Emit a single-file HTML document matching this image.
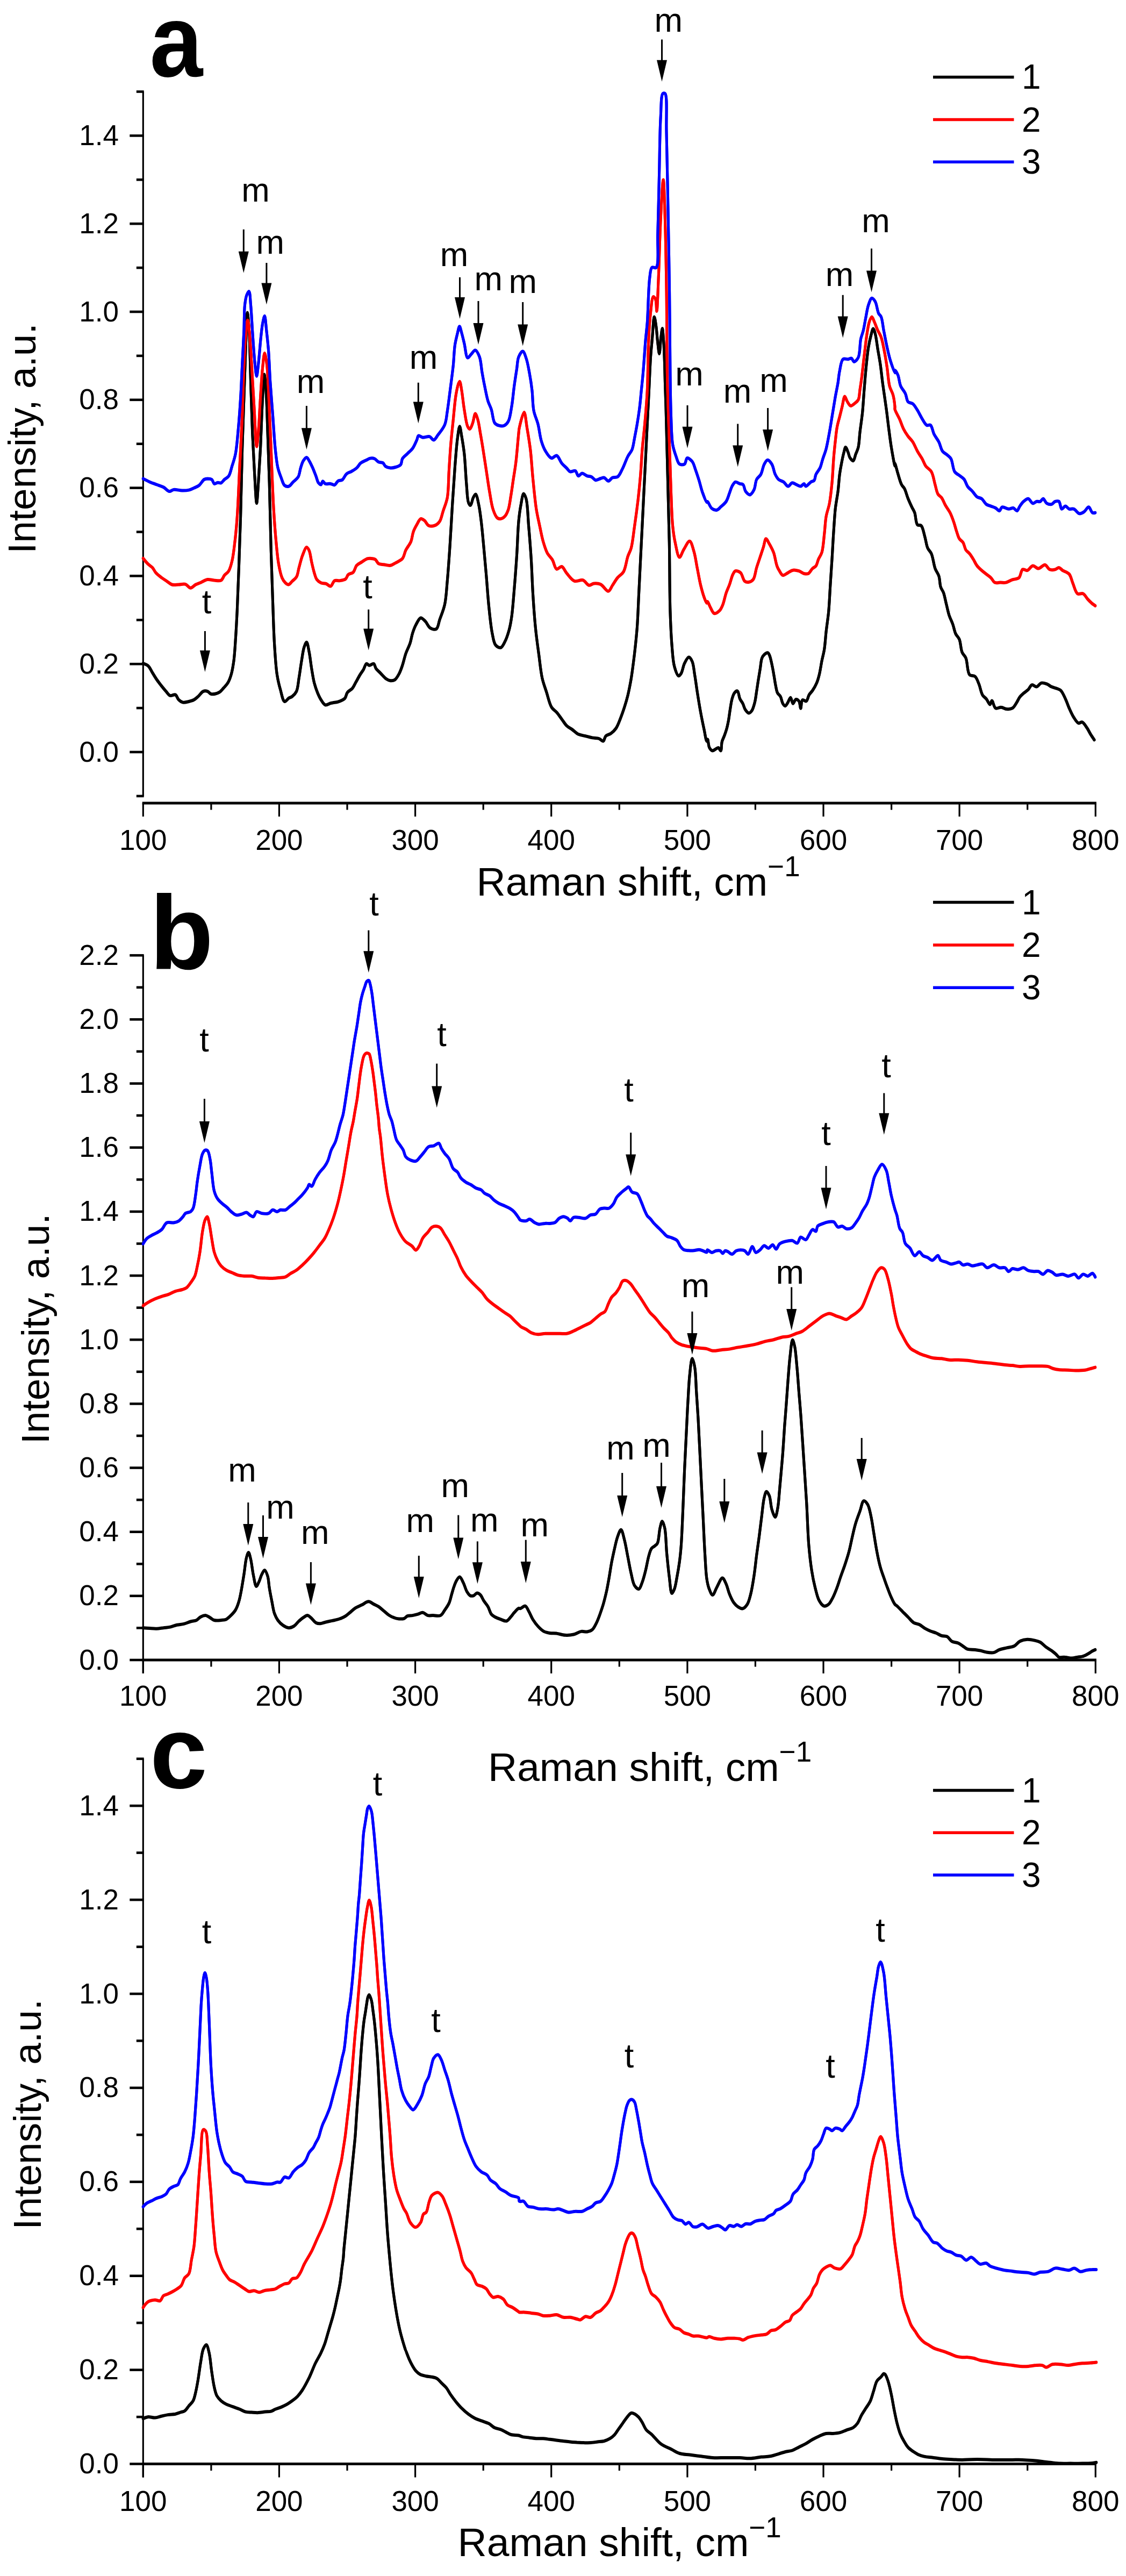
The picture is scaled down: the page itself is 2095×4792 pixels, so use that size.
<!DOCTYPE html>
<html><head><meta charset="utf-8"><title>Raman spectra</title>
<style>
html,body{margin:0;padding:0;background:#fff;}
body{width:2095px;height:4792px;overflow:hidden;}
svg{display:block;}
text{font-family:'Liberation Sans', Arial, Helvetica, sans-serif;fill:#000;}
</style></head>
<body>
<svg width="2095" height="4792" viewBox="0 0 2095 4792">
<rect width="2095" height="4792" fill="#fff"/>
<line x1="266.3" y1="170.5" x2="266.3" y2="1480.9" stroke="#000" stroke-width="3.2"/>
<line x1="253.8" y1="1480.9" x2="267.7" y2="1480.9" stroke="#000" stroke-width="4.6"/>
<line x1="241.3" y1="1399.0" x2="267.7" y2="1399.0" stroke="#000" stroke-width="4.6"/>
<line x1="253.8" y1="1317.1" x2="267.7" y2="1317.1" stroke="#000" stroke-width="4.6"/>
<line x1="241.3" y1="1235.2" x2="267.7" y2="1235.2" stroke="#000" stroke-width="4.6"/>
<line x1="253.8" y1="1153.3" x2="267.7" y2="1153.3" stroke="#000" stroke-width="4.6"/>
<line x1="241.3" y1="1071.4" x2="267.7" y2="1071.4" stroke="#000" stroke-width="4.6"/>
<line x1="253.8" y1="989.5" x2="267.7" y2="989.5" stroke="#000" stroke-width="4.6"/>
<line x1="241.3" y1="907.6" x2="267.7" y2="907.6" stroke="#000" stroke-width="4.6"/>
<line x1="253.8" y1="825.7" x2="267.7" y2="825.7" stroke="#000" stroke-width="4.6"/>
<line x1="241.3" y1="743.8" x2="267.7" y2="743.8" stroke="#000" stroke-width="4.6"/>
<line x1="253.8" y1="661.9" x2="267.7" y2="661.9" stroke="#000" stroke-width="4.6"/>
<line x1="241.3" y1="580.0" x2="267.7" y2="580.0" stroke="#000" stroke-width="4.6"/>
<line x1="253.8" y1="498.1" x2="267.7" y2="498.1" stroke="#000" stroke-width="4.6"/>
<line x1="241.3" y1="416.2" x2="267.7" y2="416.2" stroke="#000" stroke-width="4.6"/>
<line x1="253.8" y1="334.3" x2="267.7" y2="334.3" stroke="#000" stroke-width="4.6"/>
<line x1="241.3" y1="252.4" x2="267.7" y2="252.4" stroke="#000" stroke-width="4.6"/>
<line x1="253.8" y1="170.5" x2="267.7" y2="170.5" stroke="#000" stroke-width="4.6"/>
<text x="221.0" y="1416.5" font-size="53.0" text-anchor="end" font-weight="normal">0.0</text>
<text x="221.0" y="1252.7" font-size="53.0" text-anchor="end" font-weight="normal">0.2</text>
<text x="221.0" y="1088.9" font-size="53.0" text-anchor="end" font-weight="normal">0.4</text>
<text x="221.0" y="925.1" font-size="53.0" text-anchor="end" font-weight="normal">0.6</text>
<text x="221.0" y="761.3" font-size="53.0" text-anchor="end" font-weight="normal">0.8</text>
<text x="221.0" y="597.5" font-size="53.0" text-anchor="end" font-weight="normal">1.0</text>
<text x="221.0" y="433.7" font-size="53.0" text-anchor="end" font-weight="normal">1.2</text>
<text x="221.0" y="269.9" font-size="53.0" text-anchor="end" font-weight="normal">1.4</text>
<line x1="264.7" y1="1494.0" x2="2039.9" y2="1494.0" stroke="#000" stroke-width="5.0"/>
<line x1="266.3" y1="1494.0" x2="266.3" y2="1519.0" stroke="#000" stroke-width="3.2"/>
<line x1="392.9" y1="1494.0" x2="392.9" y2="1506.5" stroke="#000" stroke-width="3.2"/>
<line x1="519.4" y1="1494.0" x2="519.4" y2="1519.0" stroke="#000" stroke-width="3.2"/>
<line x1="646.0" y1="1494.0" x2="646.0" y2="1506.5" stroke="#000" stroke-width="3.2"/>
<line x1="772.6" y1="1494.0" x2="772.6" y2="1519.0" stroke="#000" stroke-width="3.2"/>
<line x1="899.2" y1="1494.0" x2="899.2" y2="1506.5" stroke="#000" stroke-width="3.2"/>
<line x1="1025.7" y1="1494.0" x2="1025.7" y2="1519.0" stroke="#000" stroke-width="3.2"/>
<line x1="1152.3" y1="1494.0" x2="1152.3" y2="1506.5" stroke="#000" stroke-width="3.2"/>
<line x1="1278.9" y1="1494.0" x2="1278.9" y2="1519.0" stroke="#000" stroke-width="3.2"/>
<line x1="1405.4" y1="1494.0" x2="1405.4" y2="1506.5" stroke="#000" stroke-width="3.2"/>
<line x1="1532.0" y1="1494.0" x2="1532.0" y2="1519.0" stroke="#000" stroke-width="3.2"/>
<line x1="1658.6" y1="1494.0" x2="1658.6" y2="1506.5" stroke="#000" stroke-width="3.2"/>
<line x1="1785.1" y1="1494.0" x2="1785.1" y2="1519.0" stroke="#000" stroke-width="3.2"/>
<line x1="1911.7" y1="1494.0" x2="1911.7" y2="1506.5" stroke="#000" stroke-width="3.2"/>
<line x1="2038.3" y1="1494.0" x2="2038.3" y2="1519.0" stroke="#000" stroke-width="3.2"/>
<text x="266.3" y="1580.6" font-size="53.0" text-anchor="middle" font-weight="normal">100</text>
<text x="519.4" y="1580.6" font-size="53.0" text-anchor="middle" font-weight="normal">200</text>
<text x="772.6" y="1580.6" font-size="53.0" text-anchor="middle" font-weight="normal">300</text>
<text x="1025.7" y="1580.6" font-size="53.0" text-anchor="middle" font-weight="normal">400</text>
<text x="1278.9" y="1580.6" font-size="53.0" text-anchor="middle" font-weight="normal">500</text>
<text x="1532.0" y="1580.6" font-size="53.0" text-anchor="middle" font-weight="normal">600</text>
<text x="1785.1" y="1580.6" font-size="53.0" text-anchor="middle" font-weight="normal">700</text>
<text x="2038.3" y="1580.6" font-size="53.0" text-anchor="middle" font-weight="normal">800</text>
<text x="886.5" y="1665.5" font-size="75">Raman shift, cm<tspan font-size="53" dy="-35.5">−1</tspan></text>
<text x="0" y="0" font-size="73" text-anchor="middle" transform="translate(66.4,815.7) rotate(-90)">Intensity, a.u.</text>
<line x1="1736.0" y1="143.4" x2="1886.5" y2="143.4" stroke="#000000" stroke-width="5.5"/>
<text x="1901.0" y="165.4" font-size="64.0" text-anchor="start" font-weight="normal">1</text>
<line x1="1736.0" y1="222.6" x2="1886.5" y2="222.6" stroke="#ff0000" stroke-width="5.5"/>
<text x="1901.0" y="244.6" font-size="64.0" text-anchor="start" font-weight="normal">2</text>
<line x1="1736.0" y1="301.2" x2="1886.5" y2="301.2" stroke="#0000ff" stroke-width="5.5"/>
<text x="1901.0" y="323.2" font-size="64.0" text-anchor="start" font-weight="normal">3</text>
<text x="0" y="0" font-size="192" font-weight="bold" transform="translate(278.4,142) scale(0.924,1)">a</text>
<path id="c1" d="M266.3,1234.1 C266.3,1234.1 273.0,1236.3 275.8,1238.8 C279.0,1241.7 281.0,1247.2 283.6,1251.4 C286.3,1255.6 288.7,1259.9 291.5,1264.0 C294.5,1268.3 297.9,1272.8 301.0,1276.6 C303.7,1280.0 306.2,1283.1 308.9,1286.1 C311.4,1288.9 313.7,1293.0 316.7,1294.0 C319.6,1294.9 323.6,1291.3 326.2,1292.4 C329.0,1293.6 330.0,1299.4 332.5,1301.8 C334.8,1304.0 337.4,1306.0 340.4,1306.6 C343.7,1307.2 347.9,1305.8 351.4,1305.0 C354.7,1304.2 358.0,1303.4 360.9,1301.8 C363.8,1300.3 366.1,1297.9 368.8,1295.5 C371.8,1292.8 374.9,1287.4 378.2,1286.1 C380.8,1285.0 383.7,1285.3 386.1,1286.1 C388.5,1286.9 390.0,1290.0 392.4,1290.8 C394.8,1291.6 397.7,1291.3 400.3,1290.8 C403.0,1290.3 405.7,1289.3 408.2,1287.7 C411.0,1285.8 413.5,1282.6 416.1,1279.8 C418.7,1276.8 421.7,1274.1 423.9,1270.3 C426.6,1265.9 428.5,1260.5 430.2,1254.6 C432.4,1247.2 433.7,1238.6 435.0,1229.3 C436.5,1218.0 437.2,1205.4 438.1,1191.5 C439.3,1174.5 440.3,1155.2 441.3,1134.8 C442.4,1110.6 443.4,1083.4 444.4,1055.9 C445.5,1025.9 446.6,995.2 447.6,961.4 C448.7,922.3 449.6,874.3 450.7,835.3 C451.7,801.5 452.8,771.7 453.9,740.7 C454.9,710.7 455.9,680.2 457.0,652.4 C458.0,627.5 458.8,581.5 460.2,581.5 C461.1,581.4 462.5,598.6 463.3,611.4 C464.9,634.6 465.4,676.8 466.5,709.2 C467.5,740.9 468.4,773.6 469.6,803.7 C470.8,831.2 472.3,858.8 473.7,882.5 C474.9,902.1 476.3,936.1 477.5,936.1 C478.6,936.1 479.7,912.5 480.7,898.3 C482.0,880.0 483.3,858.4 484.5,835.3 C485.9,806.9 487.1,766.3 488.6,740.7 C489.6,723.2 490.5,696.6 491.7,696.5 C492.7,696.5 494.0,713.1 494.9,724.9 C496.4,744.6 497.0,776.3 498.0,803.7 C499.1,833.8 500.2,864.5 501.2,898.3 C502.3,937.3 503.2,985.4 504.3,1024.4 C505.3,1058.2 506.4,1088.9 507.5,1119.0 C508.5,1146.5 509.1,1173.7 510.6,1197.8 C511.9,1218.3 513.0,1238.9 515.4,1254.6 C517.1,1265.7 519.1,1274.1 521.7,1282.9 C523.9,1290.8 526.1,1304.0 529.5,1305.0 C531.8,1305.6 534.9,1300.3 537.4,1298.7 C539.6,1297.3 541.7,1297.2 543.7,1295.5 C546.4,1293.4 549.6,1290.3 551.6,1286.1 C554.5,1279.9 554.8,1269.7 556.3,1260.9 C558.0,1250.9 559.4,1239.2 561.1,1229.3 C562.6,1220.4 563.7,1210.4 565.8,1204.1 C567.2,1200.1 569.1,1194.5 570.5,1194.7 C572.4,1194.9 573.8,1206.4 575.3,1213.6 C577.1,1222.7 578.3,1235.2 580.0,1245.1 C581.5,1254.0 582.7,1262.6 584.7,1270.3 C586.5,1277.1 588.7,1283.6 591.0,1289.2 C593.0,1293.9 594.9,1298.1 597.3,1301.8 C599.6,1305.4 602.1,1310.4 605.2,1311.3 C608.1,1312.1 612.3,1308.9 615.0,1308.1 C616.7,1307.7 617.7,1307.5 619.5,1307.2 C622.0,1306.7 625.6,1306.7 628.9,1305.6 C632.9,1304.3 638.6,1302.4 641.5,1299.3 C644.2,1296.4 643.9,1291.4 646.3,1288.2 C648.6,1285.1 653.1,1283.5 655.7,1280.4 C658.4,1277.2 659.8,1273.2 662.0,1269.3 C664.5,1264.9 667.3,1259.4 669.9,1255.1 C672.0,1251.6 674.2,1249.0 676.2,1245.7 C678.3,1242.2 679.6,1235.3 681.9,1234.7 C683.5,1234.2 685.2,1237.7 687.2,1237.8 C689.6,1238.0 693.1,1233.9 695.1,1234.7 C697.4,1235.5 697.8,1241.3 699.8,1244.1 C702.0,1247.0 704.9,1249.1 707.7,1252.0 C711.1,1255.4 715.2,1260.6 718.8,1263.0 C721.4,1264.8 724.0,1265.9 726.6,1266.2 C729.2,1266.4 732.2,1266.1 734.5,1264.6 C737.6,1262.6 740.1,1257.7 742.4,1253.6 C745.0,1248.9 746.7,1243.6 748.7,1237.8 C751.0,1231.1 752.6,1222.7 755.0,1215.7 C757.3,1209.1 760.8,1203.2 762.9,1196.8 C765.0,1190.6 765.7,1183.9 767.6,1177.9 C769.4,1172.3 771.3,1167.0 773.9,1162.1 C776.4,1157.6 779.6,1150.1 782.8,1149.5 C785.4,1149.1 788.6,1153.1 791.3,1155.8 C794.6,1159.1 796.9,1166.2 800.7,1168.4 C803.9,1170.3 809.0,1171.7 811.8,1170.0 C815.3,1167.9 815.8,1159.2 818.1,1152.7 C821.0,1144.4 825.2,1135.0 827.5,1124.3 C830.3,1111.4 830.8,1096.2 832.3,1080.2 C834.0,1061.0 835.5,1039.3 837.0,1017.1 C838.7,992.3 840.1,963.7 841.7,938.3 C843.2,914.4 844.8,890.6 846.4,869.0 C847.9,849.9 849.3,829.3 851.2,815.4 C852.4,806.4 853.9,793.3 855.3,793.3 C856.5,793.3 857.8,805.1 859.1,812.2 C860.7,821.4 862.4,831.7 863.8,843.7 C865.6,859.9 866.4,883.9 867.9,900.5 C869.1,913.5 869.2,929.1 871.7,935.2 C872.7,937.7 874.3,940.1 875.4,939.9 C877.3,939.6 878.6,929.4 880.5,925.7 C881.9,923.1 883.5,919.2 884.9,919.4 C887.1,919.7 889.0,931.1 890.6,938.3 C892.6,947.4 893.9,958.2 895.3,969.8 C897.1,984.0 898.5,1000.9 900.0,1017.1 C901.7,1034.4 903.2,1052.6 904.8,1070.7 C906.4,1089.4 907.6,1109.1 909.5,1127.5 C911.3,1144.8 913.1,1164.6 915.8,1177.9 C917.6,1186.8 918.5,1195.6 922.1,1200.0 C924.6,1202.9 928.8,1205.4 931.6,1204.7 C934.7,1203.9 937.1,1198.2 939.4,1193.7 C942.5,1187.7 945.2,1179.3 947.3,1171.6 C949.5,1163.6 950.7,1156.3 952.1,1146.4 C954.0,1132.5 955.3,1113.7 956.8,1095.9 C958.5,1076.1 960.1,1053.9 961.5,1032.9 C962.9,1011.9 963.3,987.4 965.0,969.8 C966.2,957.2 967.7,946.7 969.5,937.3 C970.8,930.1 972.3,918.6 974.2,918.4 C975.6,918.3 977.6,923.3 978.9,927.9 C981.8,937.9 982.1,960.6 983.6,978.3 C985.3,998.1 987.1,1020.3 988.4,1041.4 C989.7,1062.4 990.2,1083.4 991.5,1104.4 C992.8,1125.4 994.3,1147.6 996.3,1167.5 C998.0,1185.2 1000.4,1201.7 1002.6,1217.9 C1004.6,1233.1 1006.0,1249.5 1008.9,1262.0 C1011.1,1271.7 1014.0,1278.6 1016.7,1287.3 C1019.7,1296.5 1022.1,1309.0 1026.2,1315.6 C1028.9,1320.1 1032.6,1321.6 1035.7,1325.1 C1039.0,1328.9 1042.0,1333.5 1045.1,1337.7 C1048.3,1341.9 1051.1,1347.0 1054.6,1350.3 C1057.5,1353.1 1060.7,1354.3 1064.0,1356.6 C1068.0,1359.4 1072.2,1364.0 1076.6,1366.1 C1080.7,1368.0 1085.1,1368.2 1089.3,1369.2 C1093.5,1370.3 1097.6,1371.6 1101.9,1372.4 C1106.0,1373.2 1110.9,1372.7 1114.5,1374.0 C1117.5,1375.0 1120.3,1379.3 1122.4,1378.7 C1124.6,1378.0 1124.7,1371.6 1127.1,1369.2 C1129.5,1366.9 1133.6,1366.7 1136.5,1364.5 C1139.9,1362.1 1143.3,1359.0 1146.0,1355.0 C1149.2,1350.4 1151.4,1343.9 1153.9,1337.7 C1156.7,1330.8 1159.4,1323.0 1161.8,1315.6 C1164.1,1308.3 1166.1,1301.6 1168.1,1293.6 C1170.4,1284.0 1172.4,1273.6 1174.4,1262.0 C1176.7,1247.9 1178.8,1230.5 1180.7,1214.8 C1182.5,1199.0 1184.1,1184.4 1185.4,1167.5 C1186.9,1148.0 1187.5,1125.4 1188.6,1104.4 C1189.6,1083.4 1190.7,1062.4 1191.7,1041.4 C1192.8,1020.3 1193.8,999.3 1194.9,978.3 C1195.9,957.3 1197.0,936.3 1198.0,915.3 C1199.1,894.2 1200.1,873.2 1201.2,852.2 C1202.2,831.2 1203.3,810.2 1204.3,789.2 C1205.4,768.1 1206.4,747.1 1207.5,726.1 C1208.5,705.1 1209.4,680.7 1210.6,663.1 C1211.5,650.3 1212.5,641.6 1213.5,630.0 C1214.7,617.2 1215.8,589.6 1217.3,589.5 C1218.3,589.4 1219.6,599.0 1220.5,605.0 C1221.8,613.3 1222.4,625.7 1223.5,635.0 C1224.5,643.2 1225.7,658.0 1226.7,658.0 C1227.8,658.0 1228.5,638.4 1229.5,630.0 C1230.4,623.0 1231.5,611.0 1232.3,611.0 C1233.2,611.0 1233.9,623.7 1234.5,632.0 C1235.4,643.8 1236.0,661.4 1236.5,675.0 C1236.9,687.4 1237.1,697.7 1237.4,710.3 C1237.9,725.0 1238.4,738.1 1239.0,757.6 C1239.9,789.6 1241.1,841.7 1242.2,883.7 C1243.2,925.8 1244.5,967.8 1245.3,1009.8 C1246.1,1051.9 1245.8,1101.1 1246.9,1135.9 C1247.7,1160.6 1248.5,1180.3 1250.0,1199.0 C1251.3,1214.1 1251.8,1229.4 1254.8,1240.0 C1256.8,1247.2 1260.0,1256.8 1262.6,1257.3 C1264.2,1257.6 1265.9,1254.9 1267.4,1252.6 C1269.9,1248.5 1271.0,1239.0 1273.7,1233.7 C1275.9,1229.3 1279.0,1222.7 1281.6,1222.6 C1283.7,1222.6 1286.2,1226.9 1287.9,1230.5 C1290.5,1236.3 1291.1,1246.8 1292.6,1255.7 C1294.3,1265.6 1295.6,1276.3 1297.3,1287.3 C1299.2,1299.3 1301.4,1313.1 1303.6,1325.1 C1305.6,1336.1 1307.9,1347.1 1309.9,1356.6 C1311.7,1364.6 1313.5,1378.5 1315.0,1378.7 C1315.6,1378.8 1316.1,1375.3 1316.6,1375.4 C1317.7,1375.5 1317.9,1387.2 1319.9,1390.9 C1321.3,1393.5 1323.4,1396.1 1325.5,1396.5 C1327.5,1396.8 1330.2,1394.1 1332.1,1393.1 C1333.8,1392.3 1335.2,1390.6 1336.6,1390.9 C1338.2,1391.3 1339.9,1396.8 1341.0,1396.5 C1342.7,1396.0 1342.0,1384.7 1343.3,1379.8 C1344.3,1375.7 1346.3,1372.6 1347.7,1368.7 C1349.2,1364.5 1350.9,1360.0 1352.1,1355.4 C1353.5,1350.5 1354.4,1345.5 1355.5,1339.9 C1356.7,1333.1 1357.6,1324.6 1358.8,1317.7 C1359.8,1311.4 1360.6,1305.1 1362.1,1299.9 C1363.3,1295.7 1364.5,1291.2 1366.6,1288.8 C1368.1,1287.0 1370.6,1284.9 1372.1,1285.5 C1374.4,1286.3 1374.7,1295.8 1376.6,1299.9 C1378.1,1303.3 1380.5,1305.6 1382.1,1308.8 C1383.8,1312.2 1384.5,1316.8 1386.5,1319.9 C1388.3,1322.6 1391.0,1326.4 1393.2,1326.5 C1395.1,1326.6 1397.2,1324.3 1398.8,1322.1 C1401.2,1318.7 1402.9,1312.1 1404.3,1306.6 C1405.9,1300.4 1406.6,1293.4 1407.6,1286.6 C1408.8,1279.4 1409.8,1271.6 1411.0,1264.4 C1412.1,1257.5 1413.2,1251.0 1414.3,1244.4 C1415.4,1237.7 1415.8,1229.1 1417.6,1224.4 C1418.8,1221.4 1420.2,1219.4 1422.1,1217.7 C1423.9,1216.1 1427.0,1213.9 1428.7,1214.4 C1430.3,1214.9 1431.0,1217.5 1432.1,1220.0 C1433.8,1224.1 1435.2,1231.8 1436.5,1237.7 C1437.8,1243.6 1438.8,1249.4 1439.8,1255.5 C1441.0,1261.9 1441.9,1269.5 1443.2,1275.5 C1444.2,1280.4 1444.7,1285.3 1446.5,1288.8 C1447.9,1291.6 1450.5,1292.7 1452.0,1295.5 C1454.0,1299.0 1454.6,1305.7 1456.5,1308.8 C1457.8,1310.9 1459.5,1313.3 1460.9,1313.2 C1462.5,1313.1 1463.9,1309.9 1465.4,1307.7 C1467.2,1304.9 1469.3,1297.6 1470.9,1297.7 C1472.6,1297.8 1473.6,1308.6 1475.4,1308.8 C1477.0,1309.0 1478.8,1301.4 1480.9,1301.0 C1482.6,1300.6 1485.0,1302.4 1486.5,1304.3 C1488.5,1307.1 1488.7,1317.7 1489.8,1317.7 C1490.9,1317.6 1490.6,1303.5 1493.1,1302.1 C1494.8,1301.1 1498.1,1305.2 1500.0,1304.3 C1502.6,1303.2 1503.3,1295.8 1505.5,1292.4 C1507.3,1289.4 1509.7,1287.6 1511.8,1284.5 C1514.4,1280.6 1517.5,1275.3 1519.6,1270.3 C1521.8,1265.3 1522.9,1260.5 1524.4,1254.6 C1526.2,1247.2 1527.5,1237.4 1529.1,1229.3 C1530.6,1221.7 1532.6,1215.3 1533.8,1207.3 C1535.3,1197.7 1535.8,1186.7 1537.0,1175.7 C1538.3,1163.7 1540.4,1151.4 1541.7,1137.9 C1543.2,1122.3 1543.8,1104.0 1544.9,1087.5 C1545.9,1071.4 1547.0,1056.4 1548.0,1040.2 C1549.1,1022.9 1550.0,1003.2 1551.2,986.6 C1552.2,972.0 1552.9,958.3 1554.3,945.6 C1555.6,934.4 1557.7,924.6 1559.1,914.1 C1560.4,903.6 1561.0,891.7 1562.2,882.5 C1563.2,875.4 1564.1,870.2 1565.4,863.6 C1566.7,856.5 1568.5,847.4 1570.1,841.6 C1571.1,837.7 1572.0,832.2 1573.2,832.1 C1574.6,832.0 1576.6,838.4 1578.0,841.6 C1579.3,844.7 1579.5,848.3 1581.1,851.0 C1582.7,853.6 1585.7,857.7 1587.4,857.3 C1589.6,856.9 1590.6,848.9 1592.2,844.7 C1593.7,840.5 1595.7,837.2 1596.9,832.1 C1598.7,824.6 1598.8,813.9 1600.0,803.7 C1601.4,792.0 1603.5,778.8 1604.8,765.9 C1606.1,752.5 1606.8,738.3 1607.9,724.9 C1609.0,712.1 1609.8,699.9 1611.1,687.1 C1612.4,673.7 1613.9,657.6 1615.8,646.1 C1617.2,637.6 1618.8,630.3 1620.5,624.0 C1621.8,619.2 1623.2,611.5 1624.6,611.4 C1625.9,611.4 1627.3,616.8 1628.4,620.9 C1630.3,627.7 1631.6,639.8 1633.1,649.3 C1634.7,658.7 1636.4,667.5 1637.9,677.6 C1639.6,689.3 1640.8,702.4 1642.6,715.5 C1644.5,729.6 1647.0,745.4 1648.9,759.6 C1650.7,772.7 1652.0,785.1 1653.6,797.4 C1655.2,809.2 1656.5,820.6 1658.4,832.1 C1660.3,843.7 1664.3,866.8 1665.0,866.8 C1665.2,866.8 1664.7,862.0 1665.0,861.9 C1665.7,861.8 1668.6,874.5 1670.6,881.0 C1672.7,887.8 1674.9,896.8 1677.5,901.7 C1679.1,904.8 1681.1,905.6 1682.7,908.7 C1685.2,913.3 1687.2,921.7 1689.6,927.7 C1691.9,933.2 1694.4,938.7 1696.6,943.3 C1698.4,947.1 1700.2,949.5 1701.8,953.7 C1703.9,959.7 1703.7,972.9 1707.0,976.2 C1708.8,978.1 1711.9,976.1 1713.9,977.9 C1717.3,981.1 1718.8,991.8 1720.8,998.7 C1722.8,1005.6 1723.5,1013.9 1726.0,1019.5 C1727.9,1023.8 1730.9,1025.4 1732.9,1029.9 C1736.0,1036.7 1737.1,1050.1 1739.9,1057.6 C1741.9,1063.2 1745.1,1066.2 1746.8,1071.5 C1748.8,1077.6 1748.4,1086.6 1750.3,1092.3 C1751.6,1096.4 1753.9,1098.5 1755.5,1102.6 C1757.5,1108.3 1758.9,1116.5 1760.6,1123.4 C1762.4,1130.4 1763.7,1137.7 1765.8,1144.2 C1767.8,1150.3 1770.7,1155.7 1772.8,1161.5 C1774.8,1167.3 1775.7,1174.0 1778.0,1178.8 C1779.9,1182.9 1783.0,1184.8 1784.9,1189.2 C1787.5,1195.4 1787.5,1207.3 1790.1,1213.5 C1791.9,1217.9 1795.0,1219.2 1797.0,1223.9 C1800.2,1231.3 1799.4,1250.0 1803.9,1255.1 C1806.6,1258.0 1811.6,1256.1 1814.3,1258.5 C1817.6,1261.4 1819.1,1267.2 1821.3,1272.4 C1823.8,1278.5 1825.2,1288.3 1828.2,1293.2 C1830.2,1296.4 1832.9,1297.4 1835.1,1300.1 C1837.6,1303.1 1840.2,1310.6 1842.0,1310.5 C1843.5,1310.4 1844.2,1303.5 1845.5,1303.5 C1847.4,1303.5 1849.1,1315.7 1852.4,1317.4 C1855.2,1318.8 1859.4,1315.4 1862.8,1315.7 C1866.3,1315.9 1869.7,1318.9 1873.2,1319.1 C1876.7,1319.4 1880.7,1319.1 1883.6,1317.4 C1886.6,1315.7 1888.3,1312.0 1890.5,1308.7 C1893.0,1305.1 1894.9,1300.0 1897.5,1296.6 C1899.6,1293.8 1901.9,1291.9 1904.4,1289.7 C1907.1,1287.3 1910.5,1285.4 1913.1,1282.8 C1915.7,1280.2 1917.2,1274.8 1920.0,1274.1 C1922.5,1273.4 1925.9,1278.0 1928.6,1277.6 C1931.7,1277.1 1934.1,1271.5 1937.3,1270.6 C1940.4,1269.8 1944.5,1271.2 1947.7,1272.4 C1950.8,1273.5 1953.2,1276.1 1956.4,1277.6 C1959.6,1279.1 1963.7,1279.8 1966.7,1281.0 C1969.3,1282.1 1971.5,1282.4 1973.7,1284.5 C1976.9,1287.6 1979.8,1294.7 1982.3,1300.1 C1985.0,1305.6 1986.7,1311.7 1989.3,1317.4 C1991.9,1323.2 1994.7,1329.8 1997.9,1334.7 C2000.6,1338.8 2003.5,1344.1 2006.6,1345.1 C2008.8,1345.8 2011.3,1342.7 2013.5,1343.4 C2016.6,1344.4 2019.6,1350.1 2022.2,1353.8 C2024.8,1357.5 2026.7,1362.0 2029.1,1365.9 C2031.3,1369.5 2036.0,1376.3 2036.0,1376.3" fill="none" stroke="#000000" stroke-width="5.0" stroke-linejoin="round" stroke-linecap="round" transform="translate(0,-0.5)"/><use href="#c1" transform="translate(0,1)"/>
<path id="c2" d="M266.3,1038.6 C266.3,1038.6 272.6,1046.6 275.8,1049.6 C278.4,1052.2 281.3,1053.4 283.6,1055.9 C286.1,1058.6 287.3,1062.4 289.9,1065.4 C292.9,1068.8 297.4,1072.1 301.0,1074.9 C304.2,1077.3 307.3,1079.1 310.4,1081.2 C313.6,1083.3 316.3,1086.4 319.9,1087.5 C323.6,1088.6 328.3,1087.6 332.5,1087.5 C336.7,1087.4 341.4,1085.7 345.1,1086.8 C348.7,1087.9 351.4,1093.7 354.6,1093.8 C357.7,1093.8 360.8,1089.2 364.0,1087.5 C367.1,1085.8 370.1,1085.1 373.5,1083.7 C377.4,1082.0 381.8,1078.7 386.1,1078.0 C390.2,1077.4 394.5,1079.3 398.7,1079.6 C402.9,1079.8 408.1,1081.3 411.3,1079.6 C414.3,1078.0 415.3,1073.0 417.6,1070.1 C420.0,1067.3 423.3,1065.8 425.5,1062.2 C428.4,1057.5 430.1,1050.5 431.8,1043.3 C434.0,1034.2 435.1,1023.6 436.5,1011.8 C438.4,997.0 439.9,980.8 441.3,961.4 C443.2,934.8 444.4,898.3 446.0,866.8 C447.6,835.3 449.4,803.7 450.7,772.2 C452.0,740.7 452.6,704.7 453.9,677.6 C454.8,657.2 455.6,639.1 457.0,624.0 C458.1,613.1 459.6,595.7 460.8,595.7 C462.0,595.7 463.3,610.8 464.3,620.9 C465.8,636.0 466.8,657.2 468.1,677.6 C469.6,701.7 471.2,730.6 472.8,756.4 C474.4,781.5 475.8,830.5 477.5,830.5 C478.5,830.6 479.7,814.6 480.7,803.7 C482.2,787.2 483.1,761.1 484.5,740.7 C485.7,721.3 486.9,699.3 488.6,683.9 C489.7,673.3 490.9,657.2 492.3,657.1 C493.6,657.1 495.3,668.9 496.4,677.6 C498.4,692.8 499.0,717.5 500.2,740.7 C501.7,769.0 502.9,802.5 504.3,835.3 C505.8,870.6 507.2,913.9 509.1,945.6 C510.5,969.6 512.0,989.9 513.8,1008.7 C515.2,1023.8 516.3,1037.7 518.5,1049.6 C520.2,1059.1 522.1,1068.6 524.8,1074.9 C526.6,1079.0 528.8,1082.2 531.1,1084.3 C532.9,1085.9 534.9,1087.7 536.8,1087.5 C539.1,1087.2 541.4,1083.4 543.7,1081.2 C546.3,1078.7 549.6,1076.8 551.6,1073.3 C554.2,1068.9 554.6,1062.1 556.3,1055.9 C558.3,1049.0 560.1,1040.5 562.6,1033.9 C564.9,1028.1 568.1,1018.3 570.5,1018.1 C572.2,1018.0 573.9,1021.5 575.3,1024.4 C577.5,1029.4 578.3,1039.4 580.0,1046.5 C581.5,1053.0 583.0,1059.8 584.7,1065.4 C586.2,1070.1 587.1,1074.8 589.4,1078.0 C591.5,1080.8 594.4,1083.0 597.3,1084.3 C600.2,1085.6 603.8,1084.8 606.8,1085.9 C609.7,1086.9 612.5,1091.1 615.0,1090.6 C617.9,1090.0 619.5,1081.8 622.6,1080.2 C625.3,1078.8 628.8,1080.6 632.1,1080.2 C635.6,1079.7 640.4,1079.1 643.1,1077.0 C645.5,1075.2 645.6,1071.2 647.8,1069.1 C650.2,1066.9 654.8,1066.9 657.3,1064.4 C660.2,1061.5 660.7,1055.0 663.6,1051.8 C666.1,1048.9 669.7,1047.5 673.1,1045.5 C676.6,1043.3 680.4,1040.2 684.1,1039.2 C687.2,1038.4 691.0,1038.8 693.5,1039.2 C695.4,1039.5 696.7,1039.7 698.3,1040.8 C700.5,1042.3 701.9,1047.1 704.6,1048.7 C707.2,1050.2 710.7,1049.7 714.0,1050.2 C717.9,1050.8 722.8,1052.5 726.6,1051.8 C730.1,1051.2 732.8,1048.9 736.1,1047.1 C740.1,1044.9 745.6,1042.9 748.7,1039.2 C752.0,1035.2 752.5,1028.6 755.0,1023.4 C757.7,1018.1 762.1,1013.3 764.5,1007.7 C766.9,1001.8 767.1,994.3 769.2,988.8 C771.0,984.0 773.2,980.1 775.5,976.1 C777.7,972.3 780.0,965.9 782.8,965.1 C784.9,964.5 787.5,966.6 789.7,968.3 C792.5,970.4 794.3,976.2 797.6,977.7 C800.7,979.2 805.3,978.9 808.6,977.7 C812.1,976.4 815.6,973.5 818.1,969.8 C821.2,965.2 822.2,957.7 824.4,950.9 C826.9,943.1 830.4,935.7 832.3,925.7 C834.8,911.9 834.3,891.8 835.4,875.3 C836.4,859.2 837.3,843.7 838.6,828.0 C839.9,812.2 841.7,796.2 843.3,780.7 C844.8,765.7 846.1,748.7 848.0,736.5 C849.4,727.9 851.1,719.1 852.7,714.5 C853.6,712.2 854.5,709.6 855.3,709.7 C856.7,709.9 857.9,720.3 859.1,727.1 C860.7,736.6 861.9,750.5 863.8,761.8 C865.6,772.6 867.3,787.6 870.1,793.3 C871.3,795.8 872.9,798.2 874.2,798.0 C876.0,797.8 878.0,791.2 879.5,787.0 C881.4,781.9 882.5,769.8 884.3,769.6 C885.7,769.5 887.6,776.2 889.0,780.7 C891.0,787.3 892.2,797.2 893.7,805.9 C895.4,815.1 896.8,823.9 898.5,834.3 C900.4,846.7 902.7,861.6 904.8,875.3 C906.9,888.9 908.8,903.5 911.1,916.2 C913.1,927.5 914.4,939.2 917.4,947.8 C919.5,954.1 922.1,961.0 925.3,963.5 C927.2,965.1 929.4,965.4 931.6,965.1 C934.1,964.7 937.2,962.8 939.4,960.4 C942.2,957.4 944.0,952.8 945.8,947.8 C948.0,940.9 949.0,931.4 950.5,922.5 C952.2,912.6 953.6,901.5 955.2,891.0 C956.8,880.5 958.5,871.4 959.9,859.5 C961.8,844.0 963.8,816.8 965.0,805.9 C965.5,801.1 965.4,799.7 966.3,795.5 C967.9,788.3 972.8,767.0 975.1,767.1 C977.5,767.2 978.7,785.1 980.5,795.5 C982.6,807.9 985.0,821.8 986.8,836.4 C988.8,853.1 989.7,871.9 991.5,890.0 C993.4,908.7 995.3,930.7 997.8,946.8 C999.7,958.9 1002.0,968.1 1004.1,978.3 C1006.2,988.0 1007.9,997.9 1010.4,1006.7 C1012.7,1014.6 1015.0,1022.6 1018.3,1028.8 C1021.0,1033.8 1025.0,1036.7 1027.8,1041.4 C1030.8,1046.5 1032.1,1057.4 1035.7,1058.7 C1038.3,1059.6 1042.2,1053.3 1045.1,1054.0 C1048.7,1054.8 1050.9,1062.4 1054.6,1066.6 C1058.7,1071.3 1063.4,1078.9 1068.8,1080.8 C1073.5,1082.5 1080.0,1077.8 1084.5,1079.2 C1088.9,1080.6 1091.8,1087.9 1095.6,1088.7 C1098.7,1089.3 1101.6,1085.8 1105.0,1085.5 C1108.9,1085.1 1113.6,1085.2 1117.6,1087.1 C1122.6,1089.3 1128.0,1100.1 1131.8,1099.7 C1135.1,1099.3 1137.0,1092.6 1139.7,1088.7 C1142.7,1084.2 1145.6,1078.7 1149.2,1074.5 C1152.5,1070.4 1157.3,1068.5 1160.2,1063.4 C1164.2,1056.5 1165.4,1043.1 1168.1,1035.1 C1170.1,1029.0 1172.6,1025.9 1174.4,1019.3 C1177.2,1009.0 1178.6,992.5 1180.7,978.3 C1182.9,963.1 1185.1,946.8 1187.0,931.0 C1188.8,915.3 1190.4,899.5 1191.7,883.7 C1193.0,868.0 1193.6,852.2 1194.9,836.4 C1196.2,820.7 1198.1,806.1 1199.6,789.2 C1201.3,769.7 1203.2,748.8 1204.3,726.1 C1205.7,699.6 1205.3,665.6 1206.5,640.0 C1207.4,619.5 1208.3,600.5 1210.2,584.5 C1211.6,572.2 1212.9,552.7 1215.6,552.0 C1216.8,551.7 1218.7,554.5 1219.7,557.0 C1221.6,561.6 1221.2,579.0 1221.9,579.0 C1223.1,579.0 1224.1,540.3 1225.2,516.6 C1226.6,485.3 1227.5,440.5 1229.2,407.8 C1230.6,380.9 1232.7,334.4 1234.1,334.4 C1235.5,334.4 1236.5,379.6 1237.4,407.8 C1238.6,446.2 1239.4,496.9 1240.1,543.8 C1240.8,594.1 1240.5,651.3 1241.5,700.0 C1242.4,742.8 1244.1,782.9 1245.3,820.7 C1246.4,854.1 1247.3,886.9 1248.5,915.3 C1249.4,938.4 1249.9,960.9 1251.6,978.3 C1252.8,990.7 1254.1,999.8 1256.3,1009.8 C1258.4,1019.2 1261.1,1036.3 1264.2,1036.6 C1266.6,1036.9 1269.1,1027.2 1272.1,1022.4 C1275.4,1017.2 1280.0,1006.3 1283.1,1006.7 C1286.4,1007.0 1288.8,1018.4 1291.0,1025.6 C1293.8,1034.7 1295.2,1046.6 1297.3,1057.1 C1299.4,1067.6 1301.3,1079.1 1303.6,1088.7 C1305.6,1096.7 1307.7,1104.7 1309.9,1110.7 C1311.6,1115.1 1313.8,1121.7 1315.0,1121.8 C1315.6,1121.8 1315.7,1119.0 1316.3,1119.0 C1317.4,1119.0 1319.2,1125.1 1321.0,1128.4 C1323.3,1132.4 1325.7,1140.2 1328.9,1141.1 C1331.6,1141.8 1335.8,1138.8 1338.4,1136.3 C1341.2,1133.7 1342.8,1129.7 1344.7,1125.3 C1347.2,1119.3 1348.7,1109.9 1351.0,1103.2 C1352.9,1097.5 1355.3,1093.0 1357.3,1087.5 C1359.5,1081.5 1361.2,1073.0 1363.6,1068.5 C1365.1,1065.7 1366.2,1062.9 1368.3,1062.2 C1370.7,1061.5 1375.1,1063.1 1377.8,1065.4 C1381.3,1068.5 1382.3,1078.6 1385.7,1081.2 C1387.9,1082.9 1391.0,1083.2 1393.5,1082.7 C1396.3,1082.3 1399.3,1080.8 1401.4,1078.0 C1404.8,1073.6 1405.5,1063.0 1407.7,1055.9 C1409.8,1049.4 1411.9,1043.3 1414.0,1037.0 C1416.1,1030.7 1418.4,1024.1 1420.3,1018.1 C1422.1,1012.6 1423.0,1002.7 1425.1,1002.3 C1426.8,1002.1 1429.3,1008.2 1431.4,1011.8 C1434.0,1016.3 1437.0,1021.6 1439.3,1027.6 C1442.0,1034.9 1443.2,1046.5 1445.6,1052.8 C1447.0,1056.8 1448.4,1059.3 1450.3,1062.2 C1452.1,1065.1 1454.0,1069.6 1456.6,1070.1 C1459.2,1070.7 1462.9,1067.0 1466.1,1065.4 C1469.2,1063.8 1472.1,1061.2 1475.5,1060.7 C1479.0,1060.1 1483.1,1061.2 1486.5,1062.2 C1489.9,1063.3 1492.9,1066.2 1496.0,1067.0 C1498.7,1067.6 1501.5,1068.1 1503.9,1067.0 C1506.9,1065.6 1509.1,1060.0 1511.8,1057.5 C1513.9,1055.5 1516.4,1055.1 1518.1,1052.8 C1520.3,1049.8 1521.0,1044.3 1522.8,1040.2 C1524.7,1035.9 1527.4,1033.0 1529.1,1027.6 C1531.7,1019.0 1532.5,1004.2 1533.8,992.9 C1535.1,982.1 1535.3,971.2 1537.0,961.4 C1538.5,952.4 1541.6,945.5 1543.3,936.1 C1545.4,924.9 1546.7,911.6 1548.0,898.3 C1549.4,883.4 1550.0,865.2 1551.2,851.0 C1552.1,839.4 1553.2,829.4 1554.3,819.5 C1555.3,810.6 1556.0,802.0 1557.5,794.3 C1558.7,787.5 1560.6,781.7 1562.2,775.4 C1563.8,769.1 1565.4,762.7 1566.9,756.4 C1568.5,750.1 1569.8,737.7 1571.7,737.5 C1573.1,737.4 1574.5,744.1 1576.4,747.0 C1578.2,749.8 1580.3,754.4 1582.7,754.9 C1585.0,755.3 1588.2,752.0 1590.6,750.1 C1592.9,748.3 1595.3,746.8 1596.9,743.8 C1599.1,739.4 1599.0,731.5 1600.0,724.9 C1601.1,717.9 1602.1,711.3 1603.2,702.8 C1604.7,691.3 1606.3,675.3 1607.9,661.9 C1609.5,649.0 1610.9,635.3 1612.6,624.0 C1614.1,614.8 1615.3,605.1 1617.4,598.8 C1618.7,594.8 1620.5,589.4 1622.1,589.4 C1623.7,589.4 1625.2,595.2 1626.8,598.8 C1628.9,603.4 1630.9,609.7 1633.1,614.6 C1635.2,619.1 1637.6,622.0 1639.4,627.2 C1642.1,634.6 1643.9,646.1 1645.8,655.6 C1647.6,665.0 1649.0,674.0 1650.5,683.9 C1652.1,694.9 1652.8,709.4 1655.2,718.6 C1656.9,725.0 1659.9,728.6 1661.5,734.4 C1663.3,741.0 1664.6,751.7 1665.0,756.4 C1665.2,758.7 1664.6,759.3 1665.0,761.5 C1666.1,765.8 1671.3,774.3 1674.1,780.5 C1676.6,786.4 1678.3,792.5 1681.0,797.8 C1683.5,802.8 1686.6,807.5 1689.6,811.7 C1692.4,815.5 1695.6,818.0 1698.3,822.1 C1701.5,827.0 1703.9,834.0 1707.0,839.4 C1709.7,844.3 1713.0,848.6 1715.6,853.2 C1718.2,857.8 1719.6,863.0 1722.5,867.1 C1725.4,871.1 1730.2,872.9 1732.9,877.5 C1736.5,883.6 1737.7,894.3 1739.9,901.7 C1741.7,908.0 1742.5,914.8 1745.1,919.1 C1746.9,922.2 1749.9,923.1 1752.0,926.0 C1754.6,929.7 1756.4,935.3 1758.9,939.8 C1761.5,944.5 1765.0,948.7 1767.6,953.7 C1770.3,959.0 1772.5,965.2 1774.5,971.0 C1776.5,976.7 1777.9,982.9 1779.7,988.3 C1781.4,993.2 1782.6,998.6 1784.9,1002.2 C1786.8,1005.2 1789.9,1006.2 1791.8,1009.1 C1794.2,1012.8 1794.7,1019.3 1797.0,1023.0 C1798.9,1025.9 1801.8,1027.2 1803.9,1029.9 C1806.4,1032.9 1808.6,1036.7 1810.9,1040.3 C1813.2,1044.1 1815.1,1048.9 1817.8,1052.4 C1820.3,1055.7 1823.5,1058.4 1826.5,1061.1 C1829.3,1063.6 1832.2,1065.7 1835.1,1068.0 C1838.0,1070.3 1841.2,1072.3 1843.8,1074.9 C1846.4,1077.5 1847.8,1082.2 1850.7,1083.6 C1853.6,1085.0 1857.6,1083.6 1861.1,1083.6 C1864.6,1083.6 1868.0,1084.3 1871.5,1083.6 C1875.5,1082.8 1879.5,1079.8 1883.6,1078.4 C1887.6,1077.0 1892.6,1077.6 1895.7,1074.9 C1899.3,1071.8 1899.4,1061.1 1902.7,1059.3 C1905.0,1058.1 1908.5,1061.8 1911.3,1061.1 C1914.8,1060.2 1918.1,1052.8 1921.7,1052.4 C1925.1,1052.0 1928.5,1057.7 1932.1,1057.6 C1936.0,1057.5 1940.7,1050.2 1944.2,1050.7 C1947.5,1051.1 1949.5,1058.0 1952.9,1059.3 C1956.0,1060.6 1960.2,1060.1 1963.3,1059.3 C1965.9,1058.7 1968.0,1055.7 1970.2,1055.9 C1972.6,1056.1 1974.4,1059.3 1977.1,1061.1 C1980.6,1063.3 1986.2,1064.4 1989.3,1068.0 C1992.8,1072.1 1993.7,1079.4 1996.2,1085.3 C1998.8,1091.6 2000.8,1101.7 2004.8,1104.4 C2007.7,1106.2 2012.2,1103.0 2015.2,1104.4 C2018.7,1106.0 2021.1,1111.7 2023.9,1114.8 C2026.3,1117.4 2028.4,1119.6 2030.8,1121.7 C2033.1,1123.6 2037.8,1126.9 2037.8,1126.9" fill="none" stroke="#ff0000" stroke-width="5.0" stroke-linejoin="round" stroke-linecap="round" transform="translate(0,-0.5)"/><use href="#c2" transform="translate(0,1)"/>
<path id="c3" d="M266.3,890.4 C266.3,890.4 274.7,894.9 278.9,896.7 C283.1,898.5 287.3,899.9 291.5,901.5 C295.7,903.0 300.2,904.1 304.1,906.2 C308.1,908.3 311.7,913.7 315.2,914.1 C317.9,914.4 319.9,911.4 323.1,910.9 C327.3,910.3 333.9,912.4 338.8,912.5 C343.2,912.6 347.6,912.4 351.4,911.6 C354.9,910.8 357.8,909.2 360.9,907.8 C364.1,906.3 367.4,905.3 370.3,903.0 C373.8,900.3 376.7,893.9 379.8,892.0 C381.9,890.7 383.9,890.5 386.1,890.4 C388.6,890.4 391.9,890.5 394.0,892.0 C396.2,893.6 396.7,899.1 398.7,899.9 C400.5,900.5 402.9,897.9 405.0,897.7 C407.1,897.4 409.4,899.0 411.3,898.3 C413.6,897.5 415.3,894.0 417.6,892.0 C420.1,889.8 423.4,888.8 425.5,885.7 C428.5,881.4 429.8,873.4 431.8,866.8 C434.0,859.7 436.4,853.3 438.1,844.7 C440.4,833.2 441.4,818.9 442.8,803.7 C444.6,785.0 446.3,761.7 447.6,740.7 C448.9,719.7 449.7,698.6 450.7,677.6 C451.8,656.6 453.1,634.1 453.9,614.6 C454.6,597.7 454.1,579.5 455.5,567.3 C456.4,559.5 457.4,552.9 459.2,548.4 C460.4,545.6 462.3,541.8 463.3,542.1 C465.3,542.5 465.6,557.6 466.5,567.3 C467.8,580.6 468.5,597.7 469.6,614.6 C471.0,634.1 472.7,662.0 474.4,677.6 C475.4,686.9 476.5,699.7 477.5,699.7 C478.6,699.7 479.6,686.5 480.7,677.6 C482.3,664.3 483.9,641.1 485.4,627.2 C486.5,617.3 487.2,609.1 488.6,602.0 C489.6,596.5 491.3,587.7 492.3,587.8 C493.8,587.9 494.7,604.9 495.8,614.6 C497.1,626.1 498.5,638.5 499.6,652.4 C500.9,669.4 501.5,689.7 502.7,709.2 C504.1,729.6 505.9,751.2 507.5,772.2 C509.1,793.2 510.3,817.4 512.2,835.3 C513.6,848.6 514.7,860.2 516.9,869.9 C518.6,877.3 521.0,883.0 523.2,888.9 C525.2,894.0 526.5,900.6 529.5,903.0 C531.7,904.8 535.0,905.4 537.4,904.6 C540.3,903.7 542.6,899.5 545.3,896.7 C548.3,893.7 552.4,891.3 554.8,887.3 C557.5,882.6 557.8,875.2 559.5,869.9 C561.0,865.4 562.1,860.6 564.2,857.3 C566.0,854.6 568.6,850.9 570.5,851.0 C572.3,851.1 573.7,854.8 575.3,857.3 C577.4,860.7 579.6,865.5 581.6,869.9 C583.8,874.9 585.9,880.7 587.9,885.7 C589.6,890.1 590.5,895.7 592.6,898.3 C594.0,900.0 596.0,901.8 597.3,901.5 C598.7,901.1 599.1,895.4 600.5,895.2 C601.8,894.9 603.1,899.0 605.2,899.9 C607.7,900.9 612.0,899.5 615.0,899.9 C617.7,900.3 620.4,902.7 622.6,902.1 C625.1,901.3 626.4,896.4 628.9,894.8 C631.2,893.4 634.4,894.3 636.8,892.6 C639.8,890.5 641.6,884.2 644.7,881.6 C647.4,879.2 651.0,878.6 654.1,876.8 C657.3,875.0 660.7,873.1 663.6,870.5 C666.6,867.9 668.4,863.5 671.5,861.1 C674.3,858.8 677.9,857.8 680.9,856.3 C683.7,855.0 686.1,853.1 688.8,852.6 C691.4,852.1 694.2,852.2 696.7,853.2 C699.5,854.3 701.8,858.2 704.6,859.5 C707.1,860.7 710.4,859.7 712.5,861.1 C714.5,862.4 715.0,865.8 717.2,867.4 C719.6,869.1 723.5,870.3 726.6,870.5 C729.8,870.8 733.0,870.0 736.1,869.0 C739.3,867.9 743.5,866.8 745.6,864.2 C747.8,861.6 746.8,856.5 748.7,853.2 C750.8,849.6 755.0,846.9 758.2,843.7 C761.3,840.6 764.9,838.1 767.6,834.3 C770.8,829.9 773.5,822.9 775.5,818.5 C776.9,815.5 776.8,811.4 778.7,810.6 C780.5,809.8 783.6,813.4 786.5,813.8 C790.2,814.3 795.6,811.2 799.2,812.2 C802.3,813.1 804.5,818.8 807.0,818.5 C809.8,818.2 812.1,812.8 814.9,809.1 C818.8,803.9 824.6,797.2 827.5,790.1 C830.6,782.6 830.7,774.7 832.3,764.9 C834.4,751.6 836.6,732.5 838.6,717.6 C840.3,704.3 842.0,692.4 843.3,679.8 C844.6,667.2 844.8,652.8 846.4,642.0 C847.7,633.6 849.6,626.2 851.2,619.9 C852.4,615.1 853.6,607.3 855.0,607.3 C856.3,607.3 857.7,615.2 859.1,619.9 C860.7,625.5 862.1,632.0 863.8,638.8 C865.8,647.0 867.0,664.7 870.1,665.6 C871.9,666.1 874.2,661.5 876.4,659.3 C878.9,656.8 881.8,651.1 884.3,651.4 C887.1,651.7 890.2,658.7 892.2,664.0 C894.9,671.4 895.3,683.2 896.9,692.4 C898.4,701.1 899.8,709.0 901.6,717.6 C903.5,726.8 905.5,738.0 907.9,746.0 C909.8,752.1 912.3,755.8 914.2,761.8 C916.6,769.1 917.0,782.2 920.5,787.0 C922.6,789.8 925.5,790.9 928.4,791.7 C931.3,792.5 935.1,792.9 937.9,791.7 C940.9,790.5 943.6,787.7 945.8,783.8 C949.2,777.6 950.3,765.6 952.1,755.5 C954.1,743.8 955.1,729.7 956.8,717.6 C958.3,706.6 960.0,695.7 961.5,686.1 C962.7,678.1 962.6,669.8 965.0,664.0 C966.8,659.6 970.3,653.4 972.6,653.6 C975.0,653.8 977.1,661.0 978.9,666.2 C981.6,673.6 983.4,684.8 985.2,694.6 C987.1,704.8 988.7,715.1 989.9,726.1 C991.3,738.1 990.9,752.7 993.1,763.9 C994.9,773.3 998.7,780.2 1001.0,789.2 C1003.5,799.0 1004.5,811.6 1007.3,820.7 C1009.5,827.9 1011.8,834.2 1015.2,839.6 C1018.2,844.5 1022.4,851.5 1026.2,852.2 C1029.3,852.8 1032.8,846.7 1035.7,847.5 C1039.3,848.4 1041.8,857.6 1045.1,861.7 C1048.1,865.3 1051.7,868.3 1054.6,871.1 C1056.9,873.4 1058.3,876.6 1060.9,877.4 C1063.5,878.3 1067.9,874.7 1070.3,875.9 C1073.0,877.1 1073.7,884.8 1076.0,885.3 C1078.0,885.7 1080.4,880.8 1083.0,880.6 C1085.8,880.4 1089.3,884.3 1092.4,885.3 C1095.1,886.2 1097.8,885.7 1100.3,886.9 C1103.1,888.2 1105.3,892.7 1108.2,893.2 C1111.1,893.7 1114.8,890.9 1117.6,890.0 C1119.9,889.4 1121.8,888.0 1123.9,888.5 C1126.6,889.0 1129.2,894.8 1131.8,894.8 C1134.4,894.8 1136.8,889.8 1139.7,888.5 C1142.6,887.2 1146.4,888.8 1149.2,886.9 C1153.0,884.3 1155.6,876.9 1158.6,871.1 C1162.0,864.5 1164.8,855.3 1168.1,849.1 C1170.6,844.2 1173.9,841.4 1176.0,836.4 C1178.4,830.3 1179.2,822.0 1180.7,814.4 C1182.3,806.3 1183.9,798.0 1185.4,789.2 C1187.1,779.2 1188.8,768.2 1190.1,757.6 C1191.4,747.1 1192.2,736.6 1193.3,726.1 C1194.3,715.6 1195.4,706.9 1196.4,694.6 C1198.0,677.2 1199.7,648.9 1201.2,631.5 C1202.3,619.2 1203.3,613.0 1204.3,600.0 C1205.9,578.8 1206.4,534.5 1208.8,516.6 C1210.0,508.0 1209.9,500.1 1213.0,497.6 C1215.0,496.0 1218.9,499.6 1221.0,497.6 C1226.7,492.1 1223.0,458.7 1223.8,435.0 C1224.9,403.7 1225.6,362.3 1226.5,326.0 C1227.4,289.8 1227.5,245.5 1229.2,217.5 C1230.3,199.7 1229.6,177.4 1233.3,174.0 C1234.4,173.0 1236.3,172.9 1237.4,174.0 C1242.1,178.6 1239.2,217.3 1240.0,244.7 C1241.1,282.7 1241.9,333.2 1242.8,380.6 C1243.8,432.5 1244.9,490.0 1245.6,543.8 C1246.3,596.4 1246.4,657.7 1247.0,700.0 C1247.4,729.0 1247.6,750.9 1248.5,773.4 C1249.2,792.7 1249.3,813.1 1251.6,827.0 C1253.2,836.1 1255.6,842.6 1257.9,849.1 C1259.9,854.4 1261.0,861.2 1264.2,863.2 C1266.7,864.9 1271.4,864.8 1273.7,863.2 C1276.3,861.5 1276.0,852.9 1278.4,852.2 C1280.8,851.5 1285.4,855.4 1287.9,858.5 C1290.9,862.3 1292.2,868.8 1294.2,874.3 C1296.4,880.3 1298.4,886.6 1300.5,893.2 C1302.7,900.2 1304.3,908.3 1306.8,915.3 C1309.2,921.9 1313.2,933.8 1315.0,934.2 C1315.5,934.3 1315.7,932.9 1316.3,933.0 C1317.9,933.2 1320.9,943.0 1324.2,945.6 C1326.9,947.7 1330.8,949.3 1333.6,948.8 C1336.5,948.2 1338.8,944.8 1341.5,942.4 C1344.6,939.7 1348.4,936.9 1351.0,933.0 C1353.9,928.6 1355.4,922.2 1357.3,917.2 C1359.0,912.8 1360.0,908.2 1362.0,904.6 C1363.8,901.5 1365.8,897.4 1368.3,896.7 C1370.6,896.1 1373.7,899.1 1376.2,899.9 C1378.4,900.6 1380.8,900.0 1382.5,901.5 C1384.9,903.6 1384.9,910.8 1387.2,914.1 C1389.3,916.9 1392.6,920.6 1395.1,920.4 C1397.9,920.1 1401.0,914.9 1403.0,910.9 C1405.5,905.9 1405.2,897.0 1407.7,892.0 C1409.7,888.0 1413.4,886.5 1415.6,882.5 C1418.4,877.5 1419.3,868.4 1421.9,863.6 C1423.8,860.2 1425.9,855.9 1428.2,855.8 C1430.6,855.6 1433.9,860.1 1436.1,863.6 C1439.0,868.3 1439.9,877.5 1442.4,882.5 C1444.3,886.4 1446.0,889.6 1448.7,892.0 C1451.3,894.3 1455.3,894.7 1458.2,896.7 C1461.1,898.9 1463.4,904.5 1466.1,904.6 C1468.6,904.8 1471.2,898.7 1473.9,898.3 C1476.5,897.9 1479.2,900.4 1481.8,901.5 C1484.4,902.5 1487.3,904.9 1489.7,904.6 C1492.0,904.3 1494.4,899.6 1496.0,899.9 C1497.4,900.1 1497.7,904.4 1499.2,904.6 C1501.4,904.9 1505.7,898.7 1508.6,896.7 C1510.8,895.3 1513.4,895.4 1514.9,893.6 C1516.9,891.2 1516.4,886.2 1518.1,882.5 C1519.9,878.4 1523.9,874.5 1526.0,869.9 C1528.1,865.1 1528.9,859.7 1530.7,854.2 C1532.6,848.1 1535.1,842.4 1537.0,835.3 C1539.4,826.1 1541.3,814.7 1543.3,803.7 C1545.5,791.7 1547.6,777.6 1549.6,765.9 C1551.3,755.8 1552.7,746.7 1554.3,737.5 C1555.9,728.9 1557.7,720.4 1559.1,712.3 C1560.3,704.7 1560.6,697.5 1562.2,690.2 C1563.8,682.8 1564.7,671.0 1568.5,668.2 C1571.0,666.3 1575.2,668.5 1578.0,668.2 C1580.3,667.9 1582.5,666.0 1584.3,666.6 C1586.2,667.3 1587.1,672.8 1589.0,672.9 C1591.2,673.1 1594.9,669.1 1596.9,665.0 C1600.4,657.9 1599.6,639.6 1601.6,630.3 C1603.0,624.0 1604.9,620.5 1606.3,614.6 C1608.1,607.2 1609.4,597.5 1611.1,589.4 C1612.6,581.7 1613.6,573.5 1615.8,567.3 C1617.5,562.4 1619.7,555.1 1622.1,554.7 C1624.0,554.4 1626.6,557.9 1628.4,561.0 C1631.3,565.9 1632.2,578.1 1634.7,583.1 C1636.2,586.0 1638.1,586.3 1639.4,589.4 C1641.8,594.8 1642.5,605.7 1644.2,614.6 C1646.1,624.5 1648.3,636.2 1650.5,646.1 C1652.5,655.0 1654.3,663.3 1656.8,671.3 C1659.2,679.0 1664.1,693.5 1665.0,693.4 C1665.4,693.3 1664.5,688.9 1665.0,688.7 C1665.8,688.5 1669.0,693.7 1670.6,697.4 C1672.9,702.7 1673.2,712.1 1675.8,718.2 C1678.0,723.4 1682.1,727.1 1684.4,732.0 C1686.8,736.9 1686.7,744.5 1689.6,747.6 C1691.8,749.9 1695.7,749.0 1698.3,751.1 C1701.6,753.7 1704.2,758.8 1707.0,763.2 C1710.0,768.0 1712.6,774.0 1715.6,778.8 C1718.4,783.2 1721.1,789.3 1724.3,790.9 C1726.4,792.0 1729.2,789.6 1731.2,790.9 C1734.4,793.1 1735.4,802.9 1738.1,808.2 C1740.7,813.2 1744.3,817.1 1746.8,822.1 C1749.5,827.4 1750.6,835.2 1753.7,839.4 C1756.1,842.6 1759.7,843.9 1762.4,846.3 C1764.9,848.6 1767.3,849.9 1769.3,853.2 C1772.5,858.6 1772.7,872.2 1776.2,877.5 C1778.6,881.0 1782.0,882.1 1784.9,884.4 C1787.8,886.7 1791.1,888.3 1793.6,891.4 C1796.5,894.9 1797.7,901.3 1800.5,905.2 C1803.0,908.7 1806.3,910.8 1809.1,913.9 C1812.1,917.1 1814.6,921.9 1817.8,924.3 C1820.5,926.2 1823.8,925.8 1826.5,927.7 C1829.7,930.1 1831.9,935.8 1835.1,938.1 C1837.8,940.0 1840.9,940.4 1843.8,941.6 C1846.7,942.7 1849.8,943.6 1852.4,945.0 C1855.0,946.5 1857.3,950.5 1859.4,950.2 C1861.4,949.9 1862.1,944.1 1864.6,943.3 C1867.5,942.3 1873.0,946.6 1876.7,946.8 C1879.8,946.9 1882.7,944.4 1885.3,945.0 C1887.9,945.6 1890.3,950.6 1892.3,950.2 C1894.4,949.8 1895.5,944.4 1897.5,941.6 C1899.5,938.6 1901.7,935.3 1904.4,932.9 C1906.9,930.7 1910.3,927.4 1913.1,927.7 C1916.1,928.1 1918.8,935.9 1921.7,936.4 C1924.0,936.8 1926.3,933.5 1928.6,932.9 C1930.9,932.4 1933.6,933.7 1935.6,932.9 C1937.6,932.1 1939.0,927.6 1940.8,927.7 C1943.0,927.8 1944.9,934.7 1947.7,936.4 C1950.2,937.9 1953.7,938.7 1956.4,938.1 C1958.9,937.5 1960.8,933.7 1963.3,932.9 C1965.5,932.2 1968.4,931.6 1970.2,932.9 C1972.9,934.8 1972.9,946.1 1975.4,946.8 C1977.3,947.3 1980.0,941.6 1982.3,941.6 C1984.6,941.6 1986.7,945.9 1989.3,946.8 C1991.9,947.6 1995.1,945.7 1997.9,946.8 C2001.5,948.1 2004.8,954.9 2008.3,955.4 C2011.2,955.9 2014.3,953.8 2017.0,952.0 C2020.1,949.9 2023.0,943.1 2025.6,943.3 C2028.2,943.6 2030.0,952.3 2032.6,953.7 C2034.2,954.6 2037.8,953.7 2037.8,953.7" fill="none" stroke="#0000ff" stroke-width="5.0" stroke-linejoin="round" stroke-linecap="round" transform="translate(0,-0.5)"/><use href="#c3" transform="translate(0,1)"/>
<text x="475.4" y="374.6" font-size="63.0" text-anchor="middle" font-weight="normal">m</text>
<text x="502.8" y="472.0" font-size="63.0" text-anchor="middle" font-weight="normal">m</text>
<text x="578.0" y="730.5" font-size="63.0" text-anchor="middle" font-weight="normal">m</text>
<text x="845.0" y="494.5" font-size="63.0" text-anchor="middle" font-weight="normal">m</text>
<text x="908.8" y="539.7" font-size="63.0" text-anchor="middle" font-weight="normal">m</text>
<text x="972.7" y="545.0" font-size="63.0" text-anchor="middle" font-weight="normal">m</text>
<text x="788.0" y="686.3" font-size="63.0" text-anchor="middle" font-weight="normal">m</text>
<text x="1243.8" y="58.6" font-size="63.0" text-anchor="middle" font-weight="normal">m</text>
<text x="1282.6" y="716.6" font-size="63.0" text-anchor="middle" font-weight="normal">m</text>
<text x="1372.0" y="748.5" font-size="63.0" text-anchor="middle" font-weight="normal">m</text>
<text x="1439.5" y="728.8" font-size="63.0" text-anchor="middle" font-weight="normal">m</text>
<text x="1562.0" y="531.7" font-size="63.0" text-anchor="middle" font-weight="normal">m</text>
<text x="1629.5" y="431.5" font-size="63.0" text-anchor="middle" font-weight="normal">m</text>
<text x="384.5" y="1141.0" font-size="63.0" text-anchor="middle" font-weight="normal">t</text>
<text x="684.0" y="1113.0" font-size="63.0" text-anchor="middle" font-weight="normal">t</text>
<line x1="453.3" y1="426.8" x2="453.3" y2="469.8" stroke="#000" stroke-width="3.0"/>
<polygon points="443.8,467.8 462.8,467.8 453.3,507.8" fill="#000"/>
<line x1="495.9" y1="489.0" x2="495.9" y2="528.4" stroke="#000" stroke-width="3.0"/>
<polygon points="486.4,526.4 505.4,526.4 495.9,566.4" fill="#000"/>
<line x1="570.4" y1="755.0" x2="570.4" y2="798.3" stroke="#000" stroke-width="3.0"/>
<polygon points="560.9,796.3 579.9,796.3 570.4,836.3" fill="#000"/>
<line x1="855.5" y1="515.8" x2="855.5" y2="555.0" stroke="#000" stroke-width="3.0"/>
<polygon points="846.0,553.0 865.0,553.0 855.5,593.0" fill="#000"/>
<line x1="890.0" y1="560.0" x2="890.0" y2="603.0" stroke="#000" stroke-width="3.0"/>
<polygon points="880.5,601.0 899.5,601.0 890.0,641.0" fill="#000"/>
<line x1="972.7" y1="562.0" x2="972.7" y2="605.6" stroke="#000" stroke-width="3.0"/>
<polygon points="963.2,603.6 982.2,603.6 972.7,643.6" fill="#000"/>
<line x1="778.3" y1="711.8" x2="778.3" y2="749.5" stroke="#000" stroke-width="3.0"/>
<polygon points="768.8,747.5 787.8,747.5 778.3,787.5" fill="#000"/>
<line x1="1231.5" y1="73.5" x2="1231.5" y2="113.8" stroke="#000" stroke-width="3.0"/>
<polygon points="1222.0,111.8 1241.0,111.8 1231.5,151.8" fill="#000"/>
<line x1="1279.0" y1="754.0" x2="1279.0" y2="795.8" stroke="#000" stroke-width="3.0"/>
<polygon points="1269.5,793.8 1288.5,793.8 1279.0,833.8" fill="#000"/>
<line x1="1372.7" y1="788.5" x2="1372.7" y2="830.4" stroke="#000" stroke-width="3.0"/>
<polygon points="1363.2,828.4 1382.2,828.4 1372.7,868.4" fill="#000"/>
<line x1="1428.6" y1="759.0" x2="1428.6" y2="801.0" stroke="#000" stroke-width="3.0"/>
<polygon points="1419.1,799.0 1438.1,799.0 1428.6,839.0" fill="#000"/>
<line x1="1568.2" y1="548.8" x2="1568.2" y2="590.6" stroke="#000" stroke-width="3.0"/>
<polygon points="1558.7,588.6 1577.7,588.6 1568.2,628.6" fill="#000"/>
<line x1="1621.5" y1="462.4" x2="1621.5" y2="505.4" stroke="#000" stroke-width="3.0"/>
<polygon points="1612.0,503.4 1631.0,503.4 1621.5,543.4" fill="#000"/>
<line x1="381.4" y1="1174.0" x2="381.4" y2="1212.0" stroke="#000" stroke-width="3.0"/>
<polygon points="371.9,1210.0 390.9,1210.0 381.4,1250.0" fill="#000"/>
<line x1="685.7" y1="1133.8" x2="685.7" y2="1171.4" stroke="#000" stroke-width="3.0"/>
<polygon points="676.2,1169.4 695.2,1169.4 685.7,1209.4" fill="#000"/>
<line x1="266.3" y1="1777.2" x2="266.3" y2="3113.0" stroke="#000" stroke-width="3.2"/>
<line x1="241.3" y1="3088.0" x2="267.7" y2="3088.0" stroke="#000" stroke-width="4.6"/>
<line x1="253.8" y1="3028.4" x2="267.7" y2="3028.4" stroke="#000" stroke-width="4.6"/>
<line x1="241.3" y1="2968.8" x2="267.7" y2="2968.8" stroke="#000" stroke-width="4.6"/>
<line x1="253.8" y1="2909.3" x2="267.7" y2="2909.3" stroke="#000" stroke-width="4.6"/>
<line x1="241.3" y1="2849.7" x2="267.7" y2="2849.7" stroke="#000" stroke-width="4.6"/>
<line x1="253.8" y1="2790.1" x2="267.7" y2="2790.1" stroke="#000" stroke-width="4.6"/>
<line x1="241.3" y1="2730.5" x2="267.7" y2="2730.5" stroke="#000" stroke-width="4.6"/>
<line x1="253.8" y1="2670.9" x2="267.7" y2="2670.9" stroke="#000" stroke-width="4.6"/>
<line x1="241.3" y1="2611.4" x2="267.7" y2="2611.4" stroke="#000" stroke-width="4.6"/>
<line x1="253.8" y1="2551.8" x2="267.7" y2="2551.8" stroke="#000" stroke-width="4.6"/>
<line x1="241.3" y1="2492.2" x2="267.7" y2="2492.2" stroke="#000" stroke-width="4.6"/>
<line x1="253.8" y1="2432.6" x2="267.7" y2="2432.6" stroke="#000" stroke-width="4.6"/>
<line x1="241.3" y1="2373.0" x2="267.7" y2="2373.0" stroke="#000" stroke-width="4.6"/>
<line x1="253.8" y1="2313.5" x2="267.7" y2="2313.5" stroke="#000" stroke-width="4.6"/>
<line x1="241.3" y1="2253.9" x2="267.7" y2="2253.9" stroke="#000" stroke-width="4.6"/>
<line x1="253.8" y1="2194.3" x2="267.7" y2="2194.3" stroke="#000" stroke-width="4.6"/>
<line x1="241.3" y1="2134.7" x2="267.7" y2="2134.7" stroke="#000" stroke-width="4.6"/>
<line x1="253.8" y1="2075.1" x2="267.7" y2="2075.1" stroke="#000" stroke-width="4.6"/>
<line x1="241.3" y1="2015.6" x2="267.7" y2="2015.6" stroke="#000" stroke-width="4.6"/>
<line x1="253.8" y1="1956.0" x2="267.7" y2="1956.0" stroke="#000" stroke-width="4.6"/>
<line x1="241.3" y1="1896.4" x2="267.7" y2="1896.4" stroke="#000" stroke-width="4.6"/>
<line x1="253.8" y1="1836.8" x2="267.7" y2="1836.8" stroke="#000" stroke-width="4.6"/>
<line x1="241.3" y1="1777.2" x2="267.7" y2="1777.2" stroke="#000" stroke-width="4.6"/>
<text x="221.0" y="3105.5" font-size="53.0" text-anchor="end" font-weight="normal">0.0</text>
<text x="221.0" y="2986.3" font-size="53.0" text-anchor="end" font-weight="normal">0.2</text>
<text x="221.0" y="2867.2" font-size="53.0" text-anchor="end" font-weight="normal">0.4</text>
<text x="221.0" y="2748.0" font-size="53.0" text-anchor="end" font-weight="normal">0.6</text>
<text x="221.0" y="2628.9" font-size="53.0" text-anchor="end" font-weight="normal">0.8</text>
<text x="221.0" y="2509.7" font-size="53.0" text-anchor="end" font-weight="normal">1.0</text>
<text x="221.0" y="2390.5" font-size="53.0" text-anchor="end" font-weight="normal">1.2</text>
<text x="221.0" y="2271.4" font-size="53.0" text-anchor="end" font-weight="normal">1.4</text>
<text x="221.0" y="2152.2" font-size="53.0" text-anchor="end" font-weight="normal">1.6</text>
<text x="221.0" y="2033.1" font-size="53.0" text-anchor="end" font-weight="normal">1.8</text>
<text x="221.0" y="1913.9" font-size="53.0" text-anchor="end" font-weight="normal">2.0</text>
<text x="221.0" y="1794.7" font-size="53.0" text-anchor="end" font-weight="normal">2.2</text>
<line x1="264.7" y1="3088.0" x2="2039.9" y2="3088.0" stroke="#000" stroke-width="5.0"/>
<line x1="266.3" y1="3088.0" x2="266.3" y2="3113.0" stroke="#000" stroke-width="3.2"/>
<line x1="392.9" y1="3088.0" x2="392.9" y2="3100.5" stroke="#000" stroke-width="3.2"/>
<line x1="519.4" y1="3088.0" x2="519.4" y2="3113.0" stroke="#000" stroke-width="3.2"/>
<line x1="646.0" y1="3088.0" x2="646.0" y2="3100.5" stroke="#000" stroke-width="3.2"/>
<line x1="772.6" y1="3088.0" x2="772.6" y2="3113.0" stroke="#000" stroke-width="3.2"/>
<line x1="899.2" y1="3088.0" x2="899.2" y2="3100.5" stroke="#000" stroke-width="3.2"/>
<line x1="1025.7" y1="3088.0" x2="1025.7" y2="3113.0" stroke="#000" stroke-width="3.2"/>
<line x1="1152.3" y1="3088.0" x2="1152.3" y2="3100.5" stroke="#000" stroke-width="3.2"/>
<line x1="1278.9" y1="3088.0" x2="1278.9" y2="3113.0" stroke="#000" stroke-width="3.2"/>
<line x1="1405.4" y1="3088.0" x2="1405.4" y2="3100.5" stroke="#000" stroke-width="3.2"/>
<line x1="1532.0" y1="3088.0" x2="1532.0" y2="3113.0" stroke="#000" stroke-width="3.2"/>
<line x1="1658.6" y1="3088.0" x2="1658.6" y2="3100.5" stroke="#000" stroke-width="3.2"/>
<line x1="1785.1" y1="3088.0" x2="1785.1" y2="3113.0" stroke="#000" stroke-width="3.2"/>
<line x1="1911.7" y1="3088.0" x2="1911.7" y2="3100.5" stroke="#000" stroke-width="3.2"/>
<line x1="2038.3" y1="3088.0" x2="2038.3" y2="3113.0" stroke="#000" stroke-width="3.2"/>
<text x="266.3" y="3173.2" font-size="53.0" text-anchor="middle" font-weight="normal">100</text>
<text x="519.4" y="3173.2" font-size="53.0" text-anchor="middle" font-weight="normal">200</text>
<text x="772.6" y="3173.2" font-size="53.0" text-anchor="middle" font-weight="normal">300</text>
<text x="1025.7" y="3173.2" font-size="53.0" text-anchor="middle" font-weight="normal">400</text>
<text x="1278.9" y="3173.2" font-size="53.0" text-anchor="middle" font-weight="normal">500</text>
<text x="1532.0" y="3173.2" font-size="53.0" text-anchor="middle" font-weight="normal">600</text>
<text x="1785.1" y="3173.2" font-size="53.0" text-anchor="middle" font-weight="normal">700</text>
<text x="2038.3" y="3173.2" font-size="53.0" text-anchor="middle" font-weight="normal">800</text>
<text x="908.0" y="3312.6" font-size="75">Raman shift, cm<tspan font-size="53" dy="-35.5">−1</tspan></text>
<text x="0" y="0" font-size="73" text-anchor="middle" transform="translate(90.8,2471.8) rotate(-90)">Intensity, a.u.</text>
<line x1="1736.0" y1="1678.6" x2="1886.5" y2="1678.6" stroke="#000000" stroke-width="5.5"/>
<text x="1901.0" y="1700.6" font-size="64.0" text-anchor="start" font-weight="normal">1</text>
<line x1="1736.0" y1="1758.0" x2="1886.5" y2="1758.0" stroke="#ff0000" stroke-width="5.5"/>
<text x="1901.0" y="1780.0" font-size="64.0" text-anchor="start" font-weight="normal">2</text>
<line x1="1736.0" y1="1837.2" x2="1886.5" y2="1837.2" stroke="#0000ff" stroke-width="5.5"/>
<text x="1901.0" y="1859.2" font-size="64.0" text-anchor="start" font-weight="normal">3</text>
<text x="278.5" y="1802.0" font-size="194.0" text-anchor="start" font-weight="bold">b</text>
<path id="c4" d="M266.3,3028.2 C266.3,3028.2 274.7,3028.8 278.9,3029.1 C283.1,3029.4 287.3,3029.9 291.5,3029.7 C295.7,3029.6 299.9,3028.7 304.1,3028.2 C308.3,3027.6 312.6,3027.5 316.7,3026.6 C321.0,3025.7 325.1,3023.7 329.4,3022.8 C333.5,3021.9 337.8,3021.9 342.0,3020.9 C346.2,3019.9 350.5,3017.7 354.6,3016.5 C358.3,3015.4 362.4,3015.5 365.6,3014.0 C368.6,3012.5 370.6,3009.1 373.5,3007.7 C376.4,3006.2 380.0,3004.8 383.0,3005.1 C385.8,3005.5 388.2,3007.8 390.8,3009.2 C393.5,3010.7 395.6,3013.1 398.7,3014.0 C402.3,3015.0 407.4,3014.3 411.3,3014.0 C414.7,3013.7 417.8,3013.8 420.8,3012.4 C424.2,3010.8 427.3,3007.4 430.2,3004.5 C433.1,3001.6 435.9,2998.8 438.1,2995.1 C440.8,2990.6 442.7,2985.1 444.4,2979.3 C446.5,2972.6 447.7,2965.1 449.2,2957.2 C450.8,2948.4 452.3,2938.6 453.9,2928.9 C455.5,2918.6 456.6,2904.7 458.6,2897.3 C459.7,2893.2 461.2,2887.8 462.4,2887.9 C463.8,2887.9 465.2,2895.4 466.5,2900.5 C468.3,2908.0 469.4,2920.0 471.2,2928.9 C472.9,2936.7 474.6,2950.6 476.9,2950.9 C478.5,2951.1 480.6,2944.9 482.3,2941.5 C484.1,2937.6 485.1,2932.5 487.0,2928.9 C488.6,2925.8 490.6,2920.9 492.3,2921.0 C494.3,2921.1 496.6,2927.6 498.0,2932.0 C499.9,2938.0 499.9,2946.5 501.2,2954.1 C502.5,2962.2 504.3,2971.2 505.9,2979.3 C507.4,2986.9 508.4,2995.1 510.6,3001.4 C512.4,3006.3 514.3,3010.3 516.9,3014.0 C519.5,3017.6 522.9,3021.0 526.4,3023.4 C529.7,3025.7 533.9,3028.0 537.4,3028.2 C540.7,3028.3 543.9,3026.8 546.9,3025.0 C550.3,3022.9 553.3,3018.3 556.3,3015.5 C559.0,3013.2 561.5,3011.0 564.2,3009.2 C566.8,3007.6 569.7,3005.0 572.1,3005.1 C574.4,3005.3 576.2,3007.4 578.4,3009.2 C581.4,3011.6 584.6,3016.9 587.9,3018.7 C590.4,3020.1 593.0,3020.4 595.8,3020.3 C598.8,3020.2 602.0,3018.5 605.2,3017.8 C608.4,3017.0 611.9,3016.2 615.0,3015.5 C617.7,3015.0 619.8,3014.7 622.6,3014.0 C626.0,3013.1 630.2,3012.2 633.6,3010.8 C637.0,3009.5 640.2,3008.0 643.1,3006.1 C646.0,3004.3 648.2,3002.0 651.0,2999.8 C654.0,2997.3 656.9,2994.2 660.4,2991.9 C664.2,2989.4 668.8,2987.7 673.1,2985.6 C677.3,2983.5 681.8,2979.3 685.7,2979.3 C689.0,2979.3 692.0,2982.4 695.1,2984.0 C698.3,2985.6 701.5,2986.8 704.6,2988.8 C707.9,2990.9 710.9,2994.0 714.0,2996.6 C717.2,2999.3 720.2,3002.4 723.5,3004.5 C726.5,3006.5 729.7,3008.1 733.0,3009.2 C736.0,3010.4 739.2,3011.2 742.4,3011.5 C745.5,3011.7 749.2,3011.8 751.9,3010.8 C754.3,3009.9 755.7,3007.1 758.2,3006.1 C760.9,3005.0 764.5,3005.7 767.6,3005.1 C770.8,3004.6 774.0,3003.8 777.1,3002.9 C780.3,3002.0 783.5,2999.5 786.5,2999.8 C789.8,3000.1 792.7,3004.3 796.0,3005.1 C799.1,3005.9 802.0,3005.1 805.5,3005.1 C809.7,3005.1 815.9,3007.0 819.6,3005.1 C823.2,3003.4 825.0,2998.7 827.5,2995.1 C830.3,2991.2 833.3,2987.0 835.4,2982.4 C837.6,2977.6 838.6,2971.9 840.1,2966.7 C841.7,2961.4 843.1,2955.7 844.9,2950.9 C846.3,2946.9 847.7,2942.9 849.6,2939.9 C851.2,2937.3 853.4,2933.4 855.3,2933.6 C857.6,2933.8 860.1,2940.5 862.2,2944.6 C864.6,2949.3 866.1,2956.2 868.5,2960.4 C870.4,2963.6 872.4,2967.1 874.8,2968.3 C876.7,2969.2 879.1,2968.9 881.1,2968.3 C883.4,2967.5 885.3,2963.7 887.4,2963.5 C889.5,2963.3 891.9,2964.9 893.7,2966.7 C896.2,2969.1 897.7,2974.1 900.0,2977.7 C902.4,2981.5 905.6,2984.7 907.9,2988.8 C910.4,2993.1 911.6,2999.7 914.2,3002.9 C916.1,3005.3 918.0,3006.2 920.5,3007.7 C923.6,3009.4 927.8,3011.1 931.6,3012.4 C935.2,3013.7 939.4,3016.4 942.6,3015.5 C945.7,3014.7 948.1,3010.4 950.5,3007.7 C952.8,3005.1 954.5,3002.3 956.8,2999.8 C959.3,2997.1 962.8,2992.6 965.0,2991.9 C966.1,2991.5 966.7,2992.5 967.9,2992.3 C970.2,2991.9 974.7,2986.9 977.3,2987.6 C980.0,2988.3 981.5,2993.4 983.6,2997.0 C986.3,3001.5 988.5,3007.9 991.5,3012.8 C994.4,3017.4 997.5,3021.7 1001.0,3025.4 C1004.3,3029.0 1008.1,3032.7 1012.0,3034.9 C1015.5,3036.7 1019.2,3037.4 1023.1,3038.0 C1027.1,3038.7 1031.2,3038.1 1035.7,3038.6 C1040.6,3039.3 1046.1,3041.5 1051.4,3041.8 C1056.7,3042.1 1062.2,3041.7 1067.2,3040.5 C1072.1,3039.4 1076.9,3035.6 1081.4,3034.9 C1085.2,3034.2 1088.9,3036.1 1092.4,3035.5 C1095.7,3034.9 1099.2,3034.0 1101.9,3031.7 C1105.1,3029.0 1107.4,3023.6 1109.7,3019.1 C1112.2,3014.2 1114.0,3008.9 1116.1,3003.3 C1118.2,2997.3 1120.4,2991.2 1122.4,2984.4 C1124.6,2976.7 1126.8,2967.6 1128.7,2959.2 C1130.5,2950.8 1131.9,2942.6 1133.4,2934.0 C1135.0,2924.8 1136.4,2914.4 1138.1,2905.6 C1139.6,2897.8 1141.1,2891.1 1142.8,2883.5 C1144.7,2875.4 1146.6,2865.2 1149.2,2858.3 C1151.0,2853.3 1153.5,2845.6 1155.5,2845.7 C1157.8,2845.9 1159.9,2857.4 1161.8,2864.6 C1164.2,2873.7 1166.0,2885.6 1168.1,2896.1 C1170.2,2906.6 1172.1,2918.1 1174.4,2927.7 C1176.3,2935.7 1177.5,2944.9 1180.7,2949.7 C1182.8,2952.9 1186.3,2956.5 1188.6,2956.0 C1191.2,2955.5 1193.0,2948.3 1194.9,2943.4 C1197.3,2937.2 1199.2,2929.2 1201.2,2921.4 C1203.4,2912.5 1205.2,2900.5 1207.5,2893.0 C1209.0,2887.9 1210.0,2883.4 1212.2,2880.4 C1213.9,2878.1 1216.6,2877.3 1218.5,2875.6 C1220.3,2874.1 1221.9,2873.5 1223.2,2870.9 C1226.0,2865.6 1226.1,2850.1 1228.0,2842.5 C1229.2,2837.4 1230.6,2830.0 1232.1,2829.9 C1233.5,2829.9 1235.5,2836.9 1236.8,2842.5 C1239.2,2853.2 1239.1,2874.4 1240.6,2889.8 C1242.0,2904.8 1243.6,2920.7 1245.3,2934.0 C1246.8,2944.9 1247.6,2963.5 1250.0,2963.9 C1251.4,2964.2 1253.4,2959.5 1254.8,2956.0 C1256.9,2950.7 1258.0,2941.8 1259.5,2934.0 C1261.2,2925.1 1262.9,2915.3 1264.2,2905.6 C1265.6,2895.4 1266.5,2886.4 1267.4,2874.1 C1268.7,2856.7 1269.5,2833.2 1270.5,2811.0 C1271.6,2786.2 1272.6,2757.0 1273.7,2732.2 C1274.7,2710.0 1275.8,2690.2 1276.8,2669.2 C1277.9,2648.1 1278.8,2625.6 1280.0,2606.1 C1281.0,2589.2 1281.6,2573.0 1283.1,2558.8 C1284.4,2547.2 1285.9,2527.4 1287.9,2527.3 C1289.3,2527.2 1291.4,2536.3 1292.6,2543.1 C1294.7,2554.5 1294.7,2574.6 1295.8,2590.3 C1296.8,2606.1 1297.9,2620.7 1298.9,2637.6 C1300.0,2657.1 1301.0,2679.7 1302.1,2700.7 C1303.1,2721.7 1304.2,2742.7 1305.2,2763.7 C1306.3,2784.7 1307.3,2805.8 1308.4,2826.8 C1309.4,2847.8 1310.3,2870.3 1311.5,2889.8 C1312.6,2906.7 1313.1,2925.0 1315.0,2937.1 C1316.2,2944.9 1317.4,2950.7 1319.5,2956.0 C1321.2,2960.4 1323.6,2967.1 1325.8,2967.1 C1328.3,2967.1 1330.8,2957.8 1333.6,2952.9 C1336.8,2947.4 1340.9,2935.6 1344.0,2935.5 C1346.6,2935.5 1348.9,2942.3 1351.0,2946.6 C1353.5,2951.9 1354.8,2959.6 1357.3,2965.5 C1359.6,2971.1 1362.2,2977.1 1365.2,2981.3 C1367.6,2984.6 1370.1,2987.3 1373.1,2989.1 C1375.7,2990.8 1379.1,2992.9 1381.9,2992.3 C1384.9,2991.7 1388.1,2988.0 1390.4,2984.4 C1393.4,2979.7 1394.8,2972.8 1396.7,2965.5 C1399.2,2955.8 1401.2,2942.7 1403.0,2930.8 C1404.9,2918.5 1406.1,2905.3 1407.7,2893.0 C1409.3,2881.2 1410.9,2870.1 1412.5,2858.3 C1414.1,2846.0 1415.6,2832.8 1417.2,2820.5 C1418.7,2808.7 1419.8,2794.1 1421.9,2785.8 C1423.1,2781.0 1424.3,2775.0 1426.0,2774.8 C1427.5,2774.6 1429.9,2779.1 1431.4,2782.6 C1433.8,2788.5 1433.9,2800.8 1436.1,2807.9 C1437.8,2813.4 1440.6,2822.2 1442.4,2822.1 C1444.3,2821.9 1445.9,2811.4 1447.1,2804.7 C1448.8,2795.8 1449.3,2784.0 1450.3,2773.2 C1451.4,2761.9 1452.4,2750.3 1453.4,2738.5 C1454.5,2726.2 1455.6,2714.0 1456.6,2700.7 C1457.7,2685.8 1458.7,2668.6 1459.7,2653.4 C1460.8,2639.2 1461.9,2626.3 1462.9,2612.4 C1464.0,2598.0 1464.9,2583.2 1466.1,2568.3 C1467.3,2552.8 1468.5,2534.7 1470.2,2521.0 C1471.4,2510.3 1472.8,2492.8 1474.6,2492.6 C1475.8,2492.5 1477.5,2499.8 1478.7,2505.2 C1480.6,2514.4 1481.5,2529.7 1482.8,2543.1 C1484.2,2557.9 1485.3,2574.6 1486.5,2590.3 C1487.8,2606.1 1489.2,2621.9 1490.3,2637.6 C1491.5,2653.4 1492.4,2669.2 1493.5,2684.9 C1494.5,2700.7 1495.5,2715.3 1496.6,2732.2 C1497.9,2751.7 1499.4,2773.1 1500.7,2795.3 C1502.2,2820.1 1502.9,2851.2 1504.8,2874.1 C1506.3,2891.9 1508.0,2907.2 1510.2,2921.4 C1512.0,2933.0 1514.0,2943.0 1516.5,2952.9 C1518.8,2961.8 1520.8,2972.0 1524.4,2978.1 C1526.9,2982.4 1530.0,2986.8 1533.2,2987.6 C1535.9,2988.2 1539.2,2986.4 1541.7,2984.4 C1544.9,2981.8 1547.1,2976.5 1549.6,2971.8 C1552.5,2966.2 1555.1,2959.2 1557.5,2952.9 C1559.8,2946.6 1561.5,2940.5 1563.8,2934.0 C1566.2,2926.9 1569.1,2919.5 1571.7,2911.9 C1574.4,2903.8 1577.2,2895.4 1579.5,2886.7 C1582.0,2877.6 1583.7,2867.5 1585.9,2858.3 C1587.9,2849.6 1589.7,2841.2 1592.2,2833.1 C1594.5,2825.4 1597.5,2818.1 1600.0,2811.0 C1602.4,2804.5 1604.0,2792.9 1607.0,2792.1 C1609.1,2791.6 1612.2,2795.3 1614.2,2798.4 C1617.3,2803.3 1618.8,2812.6 1620.5,2820.5 C1622.5,2829.3 1623.6,2838.7 1625.3,2848.9 C1627.2,2860.6 1629.3,2875.0 1631.6,2886.7 C1633.5,2896.8 1635.5,2906.6 1637.9,2915.1 C1639.8,2922.1 1641.9,2927.4 1644.2,2934.0 C1646.6,2941.1 1649.5,2949.3 1652.1,2956.0 C1654.2,2961.8 1656.1,2966.9 1658.4,2971.8 C1660.4,2976.3 1662.8,2981.8 1665.0,2984.4 C1666.3,2986.0 1667.3,2986.1 1668.9,2987.5 C1671.5,2989.9 1675.8,2994.4 1679.2,2997.9 C1682.7,3001.4 1686.2,3004.8 1689.6,3008.3 C1693.1,3011.7 1696.3,3016.3 1700.0,3018.7 C1703.3,3020.7 1707.1,3020.5 1710.4,3022.1 C1714.0,3023.9 1717.3,3027.0 1720.8,3029.1 C1724.2,3031.0 1727.7,3032.8 1731.2,3034.3 C1734.6,3035.7 1738.2,3036.3 1741.6,3037.7 C1745.1,3039.2 1748.4,3041.8 1752.0,3042.9 C1755.4,3044.0 1759.3,3043.1 1762.4,3044.6 C1765.7,3046.4 1767.6,3051.3 1771.0,3053.3 C1774.5,3055.4 1779.4,3055.0 1783.2,3056.8 C1786.9,3058.5 1790.4,3061.7 1793.6,3063.7 C1796.1,3065.3 1797.6,3067.0 1800.5,3067.9 C1804.2,3069.0 1810.1,3068.4 1814.3,3068.9 C1818.1,3069.3 1821.3,3069.9 1824.7,3070.6 C1828.2,3071.4 1831.4,3072.8 1835.1,3073.4 C1839.4,3074.1 1844.8,3075.0 1849.0,3074.1 C1852.8,3073.3 1855.6,3070.3 1859.4,3068.9 C1863.6,3067.3 1868.6,3066.6 1873.2,3065.4 C1877.8,3064.3 1883.0,3064.0 1887.1,3062.0 C1891.0,3060.0 1893.5,3055.3 1897.5,3053.3 C1901.5,3051.2 1906.7,3050.1 1911.3,3049.8 C1915.9,3049.6 1920.9,3050.6 1925.2,3051.6 C1928.9,3052.4 1932.3,3053.2 1935.6,3055.0 C1939.2,3057.1 1942.4,3061.1 1946.0,3063.7 C1949.4,3066.2 1953.1,3068.2 1956.4,3070.6 C1959.4,3072.9 1962.5,3075.3 1965.0,3077.6 C1967.0,3079.4 1967.9,3081.8 1970.2,3082.8 C1972.9,3083.9 1976.9,3082.5 1980.6,3082.8 C1984.9,3083.0 1990.2,3084.6 1994.5,3084.5 C1998.2,3084.4 2001.4,3083.3 2004.8,3082.8 C2008.3,3082.2 2011.9,3082.1 2015.2,3081.0 C2018.8,3079.9 2022.6,3077.6 2025.6,3075.8 C2028.2,3074.3 2030.4,3072.5 2032.6,3071.3 C2034.4,3070.3 2037.8,3068.9 2037.8,3068.9" fill="none" stroke="#000000" stroke-width="5.0" stroke-linejoin="round" stroke-linecap="round" transform="translate(0,-0.5)"/><use href="#c4" transform="translate(0,1)"/>
<path id="c5" d="M266.3,2428.9 C266.3,2428.9 272.3,2424.6 275.8,2422.6 C279.6,2420.4 284.1,2418.2 288.4,2416.3 C292.5,2414.5 296.8,2413.0 301.0,2411.6 C305.2,2410.2 309.4,2409.4 313.6,2407.8 C317.9,2406.2 321.9,2403.6 326.2,2402.1 C330.3,2400.7 335.1,2400.2 338.8,2399.0 C341.8,2398.0 344.3,2397.6 346.7,2395.8 C349.6,2393.7 352.1,2389.9 354.6,2386.4 C357.3,2382.6 360.4,2378.6 362.5,2373.8 C364.8,2368.3 365.7,2361.6 367.2,2354.9 C368.9,2347.1 370.5,2338.9 371.9,2329.6 C373.7,2318.3 374.8,2302.7 376.6,2291.8 C378.1,2283.4 379.3,2274.7 381.4,2269.7 C382.6,2266.8 384.3,2263.3 385.5,2263.4 C387.0,2263.7 388.1,2271.0 389.3,2276.0 C391.0,2283.6 392.4,2295.2 394.0,2304.4 C395.5,2313.1 396.6,2322.3 398.7,2329.6 C400.4,2335.6 402.7,2340.9 405.0,2345.4 C406.9,2349.1 408.8,2352.0 411.3,2354.9 C414.0,2357.8 417.3,2360.6 420.8,2362.7 C424.2,2364.8 428.1,2365.9 431.8,2367.5 C435.5,2369.0 439.0,2371.1 442.8,2372.2 C446.8,2373.3 451.2,2373.5 455.5,2373.8 C459.7,2374.0 463.9,2373.3 468.1,2373.8 C472.3,2374.3 476.4,2376.3 480.7,2376.9 C484.9,2377.5 489.1,2377.4 493.3,2377.6 C497.5,2377.7 501.7,2378.0 505.9,2377.9 C510.1,2377.8 514.3,2377.3 518.5,2376.9 C522.7,2376.5 527.4,2376.7 531.1,2375.3 C534.7,2374.0 537.3,2371.1 540.6,2369.0 C544.1,2366.9 548.1,2365.2 551.6,2362.7 C555.4,2360.1 559.0,2356.6 562.6,2353.3 C566.4,2349.8 570.1,2346.1 573.7,2342.2 C577.4,2338.2 581.3,2333.9 584.7,2329.6 C588.1,2325.5 591.0,2321.2 594.2,2317.0 C597.3,2312.8 601.0,2308.7 603.6,2304.4 C606.2,2300.3 607.7,2296.8 609.9,2291.8 C613.0,2284.9 617.0,2275.1 620.0,2266.5 C623.0,2257.8 625.6,2248.8 628.0,2239.9 C630.4,2231.0 632.3,2222.1 634.2,2213.2 C636.1,2204.3 637.9,2195.5 639.5,2186.6 C641.1,2177.7 642.4,2168.8 643.9,2159.9 C645.4,2151.0 646.9,2142.2 648.4,2133.3 C649.9,2124.4 651.2,2115.0 652.8,2106.6 C654.2,2099.1 656.1,2092.1 657.4,2085.4 C658.6,2079.3 659.2,2074.2 660.3,2068.0 C661.5,2060.8 663.2,2052.5 664.4,2044.7 C665.6,2036.9 666.3,2029.2 667.3,2021.4 C668.3,2013.6 669.2,2005.3 670.2,1998.1 C671.1,1991.8 672.0,1986.2 673.1,1980.6 C674.1,1975.3 675.2,1969.0 676.6,1965.4 C677.5,1963.2 678.3,1961.6 679.5,1960.5 C680.4,1959.7 681.5,1959.1 682.5,1959.0 C683.4,1958.9 684.2,1959.2 685.0,1959.5 C685.8,1959.8 686.5,1959.9 687.1,1960.8 C688.6,1962.9 689.6,1969.9 690.6,1974.8 C691.7,1980.3 692.6,1986.4 693.5,1992.2 C694.4,1998.0 695.0,2003.4 695.8,2009.7 C696.7,2016.9 697.8,2025.2 698.7,2033.0 C699.6,2040.8 700.2,2048.5 701.1,2056.3 C702.0,2064.1 703.2,2072.1 704.0,2079.6 C704.7,2086.6 705.0,2093.7 705.7,2100.0 C706.3,2105.5 707.2,2109.3 707.9,2115.5 C709.0,2124.9 710.1,2139.2 711.4,2151.0 C712.7,2162.9 714.3,2174.8 715.9,2186.6 C717.5,2198.5 719.1,2211.2 721.2,2222.1 C723.0,2231.6 725.1,2240.2 727.4,2248.7 C729.6,2256.7 731.8,2264.3 734.5,2271.8 C737.1,2279.1 739.9,2286.7 743.4,2293.1 C746.6,2299.0 750.0,2304.8 754.1,2309.1 C757.8,2312.9 763.0,2315.0 766.5,2318.0 C769.4,2320.5 771.6,2325.5 773.9,2325.4 C776.2,2325.3 778.3,2320.7 780.2,2317.5 C782.6,2313.6 783.9,2307.6 786.5,2303.3 C789.1,2299.2 793.0,2295.8 796.0,2292.3 C798.8,2289.0 800.8,2284.6 803.9,2282.8 C806.6,2281.3 810.6,2280.8 813.3,2281.3 C815.7,2281.6 817.7,2282.6 819.6,2284.4 C822.5,2287.0 824.9,2292.8 827.5,2297.0 C830.2,2301.2 832.9,2305.1 835.4,2309.6 C838.2,2314.5 840.7,2320.1 843.3,2325.4 C845.9,2330.7 848.8,2335.9 851.2,2341.2 C853.5,2346.4 854.9,2351.8 857.5,2356.9 C860.1,2362.3 863.4,2367.9 866.9,2372.7 C870.3,2377.3 874.4,2381.4 878.0,2385.3 C881.2,2388.7 884.3,2391.6 887.4,2394.8 C890.6,2397.9 893.9,2400.7 896.9,2404.2 C900.2,2408.0 902.8,2413.1 906.3,2416.8 C909.7,2420.4 913.6,2423.3 917.4,2426.3 C921.0,2429.1 924.7,2431.5 928.4,2434.2 C932.1,2436.8 935.9,2439.6 939.4,2442.0 C942.7,2444.3 946.0,2446.0 948.9,2448.3 C951.8,2450.7 954.1,2453.6 956.8,2456.2 C959.5,2458.9 962.6,2461.9 965.0,2464.1 C966.7,2465.7 967.6,2466.9 969.5,2468.2 C971.9,2469.9 975.8,2471.1 978.9,2472.9 C982.1,2474.8 984.8,2477.6 988.4,2479.2 C992.1,2480.9 996.8,2482.1 1001.0,2482.3 C1005.2,2482.6 1009.4,2481.0 1013.6,2480.8 C1017.8,2480.5 1021.8,2480.8 1026.2,2480.8 C1031.2,2480.8 1037.0,2480.8 1042.0,2480.8 C1046.4,2480.8 1050.4,2481.5 1054.6,2480.8 C1058.9,2480.0 1063.0,2477.9 1067.2,2476.0 C1071.4,2474.2 1075.9,2471.7 1079.8,2469.7 C1083.2,2468.0 1086.1,2466.6 1089.3,2465.0 C1092.4,2463.4 1095.7,2462.3 1098.7,2460.3 C1102.0,2458.1 1105.0,2455.0 1108.2,2452.4 C1111.3,2449.8 1114.5,2446.7 1117.6,2444.5 C1120.3,2442.6 1123.3,2442.3 1125.5,2439.8 C1128.4,2436.6 1129.7,2430.2 1131.8,2425.6 C1133.9,2421.2 1135.6,2416.5 1138.1,2413.0 C1140.4,2409.8 1143.6,2408.0 1146.0,2405.1 C1148.4,2402.2 1150.3,2399.1 1152.3,2395.6 C1154.5,2391.8 1155.9,2385.0 1158.6,2383.0 C1160.4,2381.7 1162.8,2381.6 1164.9,2382.1 C1167.5,2382.7 1170.4,2385.3 1172.8,2387.8 C1175.7,2390.7 1178.1,2395.1 1180.7,2398.8 C1183.3,2402.5 1186.1,2406.3 1188.6,2409.8 C1190.8,2413.1 1192.7,2415.9 1194.9,2419.3 C1197.4,2423.2 1200.2,2428.0 1202.7,2431.9 C1204.9,2435.3 1206.6,2438.3 1209.1,2441.4 C1211.8,2444.7 1215.6,2447.6 1218.5,2450.8 C1221.3,2453.9 1223.8,2457.1 1226.4,2460.3 C1229.0,2463.4 1231.5,2466.6 1234.3,2469.7 C1237.2,2473.0 1241.0,2475.9 1243.7,2479.2 C1246.2,2482.2 1247.7,2485.7 1250.0,2488.7 C1252.4,2491.5 1255.0,2494.4 1257.9,2496.5 C1260.8,2498.6 1264.0,2500.0 1267.4,2501.3 C1270.9,2502.6 1274.7,2503.6 1278.4,2504.4 C1282.1,2505.2 1285.8,2505.5 1289.4,2506.0 C1293.1,2506.5 1296.5,2507.1 1300.5,2507.6 C1305.0,2508.1 1310.6,2508.2 1315.0,2509.1 C1318.9,2510.0 1321.8,2512.3 1325.8,2512.7 C1330.5,2513.3 1336.3,2511.7 1341.5,2511.2 C1346.8,2510.6 1352.1,2510.4 1357.3,2509.6 C1362.6,2508.8 1367.5,2507.4 1373.1,2506.4 C1379.1,2505.3 1386.0,2504.4 1392.0,2503.3 C1397.5,2502.3 1402.5,2501.4 1407.7,2500.1 C1413.0,2498.8 1418.2,2496.7 1423.5,2495.4 C1428.7,2494.1 1434.0,2493.5 1439.3,2492.2 C1444.5,2490.9 1450.0,2488.6 1455.0,2487.5 C1459.4,2486.6 1463.5,2487.0 1467.6,2485.9 C1471.9,2484.9 1476.0,2482.8 1480.2,2481.2 C1484.4,2479.6 1488.8,2478.7 1492.8,2476.5 C1497.2,2474.1 1501.3,2470.2 1505.5,2467.0 C1509.7,2463.9 1513.9,2460.7 1518.1,2457.6 C1522.3,2454.4 1526.3,2450.5 1530.7,2448.1 C1534.7,2445.9 1539.1,2443.4 1543.3,2443.4 C1547.5,2443.4 1552.0,2446.7 1555.9,2448.1 C1559.3,2449.3 1562.2,2450.2 1565.4,2451.3 C1568.5,2452.3 1571.8,2454.8 1574.8,2454.4 C1578.1,2454.0 1581.1,2450.2 1584.3,2448.1 C1587.4,2446.0 1590.7,2444.3 1593.7,2441.8 C1597.0,2439.1 1600.5,2436.3 1603.2,2432.3 C1606.4,2427.7 1608.5,2421.1 1611.1,2415.0 C1613.8,2408.5 1616.5,2400.9 1619.0,2394.5 C1621.2,2388.9 1623.0,2383.7 1625.3,2378.8 C1627.3,2374.3 1629.0,2369.7 1631.6,2366.1 C1633.8,2363.0 1636.8,2358.7 1639.4,2358.3 C1641.5,2357.9 1644.0,2359.4 1645.8,2361.4 C1648.7,2364.7 1650.1,2372.2 1652.1,2378.8 C1654.5,2387.0 1656.6,2398.3 1658.4,2407.1 C1659.9,2414.7 1660.7,2421.5 1662.0,2428.5 C1663.3,2435.4 1664.5,2442.1 1666.1,2448.9 C1667.7,2455.7 1669.2,2463.3 1671.5,2469.3 C1673.4,2474.4 1675.8,2478.1 1678.3,2482.9 C1681.2,2488.4 1684.8,2495.6 1687.9,2500.3 C1690.3,2503.8 1692.2,2506.6 1694.8,2509.0 C1697.4,2511.2 1700.4,2512.5 1703.5,2514.1 C1706.8,2515.9 1710.4,2517.9 1713.9,2519.3 C1717.3,2520.8 1720.7,2521.7 1724.3,2522.8 C1728.1,2524.0 1732.1,2525.5 1736.4,2526.3 C1741.2,2527.1 1747.0,2526.7 1752.0,2527.3 C1756.8,2527.9 1760.9,2529.3 1765.8,2529.7 C1771.3,2530.2 1777.4,2529.6 1783.2,2529.7 C1788.9,2529.9 1794.7,2530.2 1800.5,2530.8 C1806.3,2531.4 1812.0,2532.5 1817.8,2533.2 C1823.6,2533.9 1829.3,2534.4 1835.1,2534.9 C1840.9,2535.5 1846.7,2536.0 1852.4,2536.7 C1858.2,2537.4 1864.3,2538.5 1869.8,2539.1 C1874.6,2539.6 1879.0,2539.7 1883.6,2540.1 C1888.2,2540.6 1892.6,2541.7 1897.5,2541.9 C1902.9,2542.1 1909.0,2541.3 1914.8,2541.2 C1920.6,2541.1 1926.3,2541.1 1932.1,2541.2 C1937.9,2541.3 1944.5,2540.8 1949.4,2541.9 C1953.4,2542.7 1956.3,2545.0 1959.8,2546.0 C1963.2,2547.0 1966.3,2547.6 1970.2,2548.1 C1975.2,2548.7 1982.1,2548.5 1987.5,2548.8 C1992.4,2549.0 1996.5,2549.5 2001.4,2549.5 C2006.8,2549.5 2013.7,2549.5 2018.7,2548.8 C2022.6,2548.2 2025.8,2546.9 2029.1,2546.0 C2032.1,2545.2 2037.8,2543.6 2037.8,2543.6" fill="none" stroke="#ff0000" stroke-width="5.0" stroke-linejoin="round" stroke-linecap="round" transform="translate(0,-0.5)"/><use href="#c5" transform="translate(0,1)"/>
<path id="c6" d="M266.3,2313.9 C266.3,2313.9 270.0,2307.0 272.6,2304.4 C275.2,2301.8 278.9,2300.0 282.1,2298.1 C285.2,2296.3 288.4,2295.2 291.5,2293.4 C294.7,2291.5 298.0,2289.9 301.0,2287.1 C304.4,2283.8 306.5,2276.4 310.4,2274.5 C314.0,2272.7 319.2,2275.1 323.1,2274.5 C326.5,2273.9 329.7,2273.1 332.5,2271.3 C335.5,2269.5 338.2,2266.0 340.4,2263.4 C342.3,2261.3 343.0,2258.7 345.1,2257.1 C347.5,2255.4 352.2,2255.7 354.6,2254.0 C356.7,2252.4 358.0,2250.7 359.3,2247.7 C361.7,2242.2 362.7,2230.9 364.0,2222.4 C365.3,2214.1 365.9,2205.9 367.2,2197.2 C368.5,2188.0 370.2,2177.7 371.9,2168.9 C373.4,2161.0 374.4,2151.9 376.6,2146.8 C378.0,2143.6 379.5,2140.7 381.4,2139.8 C382.8,2139.2 384.8,2139.4 386.1,2140.5 C388.6,2142.6 389.6,2150.3 390.8,2156.2 C392.4,2163.6 392.8,2172.4 394.0,2181.5 C395.4,2192.1 396.2,2207.3 398.7,2216.1 C400.4,2222.1 402.2,2226.3 405.0,2230.3 C407.6,2234.1 411.4,2237.0 414.5,2239.8 C417.2,2242.2 419.8,2243.8 422.4,2246.1 C425.1,2248.5 427.4,2251.6 430.2,2254.0 C433.1,2256.4 436.4,2259.6 439.7,2260.3 C442.7,2260.9 446.0,2259.5 449.2,2258.7 C452.3,2257.9 455.9,2255.1 458.6,2255.5 C461.0,2255.9 462.8,2258.9 464.9,2260.3 C467.0,2261.5 469.3,2263.9 471.2,2263.4 C473.6,2262.8 474.8,2254.9 477.5,2254.0 C480.1,2253.1 483.6,2256.6 487.0,2257.1 C490.8,2257.8 496.1,2258.4 499.6,2257.1 C502.8,2256.0 504.7,2251.2 507.5,2250.8 C510.0,2250.4 512.9,2254.1 515.4,2254.0 C517.6,2253.9 519.3,2251.4 521.7,2250.8 C524.4,2250.2 528.3,2251.8 531.1,2250.8 C534.1,2249.8 536.4,2246.6 539.0,2244.5 C541.6,2242.4 544.5,2240.4 546.9,2238.2 C549.2,2236.2 550.9,2234.2 553.2,2231.9 C556.0,2229.1 559.6,2225.9 562.6,2222.4 C565.9,2218.6 569.9,2213.4 572.1,2209.8 C573.6,2207.5 573.8,2203.9 575.3,2203.5 C576.5,2203.2 578.5,2207.1 580.0,2206.7 C582.3,2206.1 584.0,2198.2 586.3,2194.1 C588.7,2189.8 591.3,2185.4 594.2,2181.5 C597.1,2177.5 600.9,2174.2 603.6,2170.4 C606.1,2166.9 608.0,2163.7 609.9,2159.4 C612.4,2153.8 613.8,2145.6 616.3,2139.4 C618.6,2133.7 621.8,2130.0 624.2,2123.6 C627.5,2114.9 630.3,2100.4 632.9,2091.3 C634.8,2084.6 636.7,2080.1 638.2,2073.8 C639.9,2066.6 640.9,2058.3 642.2,2050.5 C643.4,2042.7 644.5,2035.0 645.7,2027.2 C646.9,2019.4 648.0,2011.7 649.2,2003.9 C650.4,1996.1 651.5,1988.4 652.7,1980.6 C653.9,1972.8 655.0,1965.1 656.2,1957.3 C657.4,1949.5 658.4,1941.8 659.7,1934.0 C661.0,1926.2 662.5,1918.5 663.8,1910.7 C665.1,1902.9 666.1,1895.2 667.3,1887.4 C668.5,1879.6 669.5,1870.9 670.8,1864.0 C671.9,1858.4 672.9,1853.9 674.3,1849.0 C675.6,1844.2 677.5,1839.1 678.9,1835.0 C680.1,1831.7 680.6,1827.8 682.2,1826.0 C683.3,1824.8 685.3,1823.6 686.3,1824.0 C687.4,1824.4 687.6,1826.9 688.3,1829.1 C689.5,1833.2 690.8,1840.3 691.8,1846.6 C693.0,1853.8 693.7,1862.1 694.7,1869.9 C695.7,1877.7 696.6,1885.4 697.6,1893.2 C698.6,1901.0 699.5,1908.7 700.5,1916.5 C701.5,1924.3 702.4,1932.0 703.4,1939.8 C704.4,1947.6 705.3,1955.3 706.3,1963.1 C707.3,1970.9 708.1,1978.6 709.2,1986.4 C710.3,1994.2 711.5,2001.9 712.7,2009.7 C713.9,2017.5 714.9,2025.2 716.2,2033.0 C717.5,2040.8 718.8,2049.1 720.3,2056.3 C721.6,2062.6 722.8,2068.6 724.4,2073.8 C725.8,2078.1 727.7,2081.3 729.0,2085.4 C730.4,2089.9 731.2,2094.7 732.5,2100.0 C734.0,2106.3 735.3,2115.1 737.7,2120.5 C739.4,2124.4 741.9,2126.8 744.0,2129.9 C746.1,2133.1 748.5,2135.9 750.3,2139.4 C752.2,2143.2 752.5,2148.8 755.0,2152.0 C757.4,2154.9 761.2,2157.0 764.5,2158.3 C767.5,2159.5 771.1,2160.8 773.9,2159.9 C777.0,2158.9 779.3,2154.8 781.8,2152.0 C784.5,2149.1 787.1,2145.7 789.7,2142.5 C792.3,2139.4 794.4,2134.9 797.6,2133.1 C800.3,2131.5 804.0,2132.5 807.0,2131.5 C810.3,2130.5 814.1,2126.0 816.5,2126.8 C818.9,2127.6 819.4,2133.1 821.2,2136.2 C823.1,2139.5 825.2,2142.6 827.5,2145.7 C829.9,2148.9 833.0,2151.2 835.4,2155.2 C838.5,2160.2 840.0,2169.7 843.3,2174.1 C845.6,2177.1 848.9,2177.7 851.2,2180.4 C853.7,2183.4 854.8,2188.2 857.5,2191.4 C860.1,2194.5 863.7,2197.1 866.9,2199.3 C870.0,2201.3 873.3,2202.2 876.4,2204.0 C879.6,2205.9 882.6,2208.7 885.9,2210.3 C888.9,2211.8 892.6,2211.8 895.3,2213.5 C897.8,2215.0 899.1,2218.0 901.6,2219.8 C904.3,2221.7 908.2,2222.5 911.1,2224.5 C914.0,2226.6 916.1,2230.0 919.0,2232.4 C921.9,2234.8 925.0,2236.9 928.4,2238.7 C931.9,2240.6 935.9,2241.8 939.4,2243.4 C942.7,2245.0 946.0,2246.3 948.9,2248.2 C951.8,2250.0 954.3,2251.9 956.8,2254.5 C959.7,2257.5 963.0,2262.7 965.0,2265.5 C966.2,2267.2 966.3,2268.6 967.9,2269.5 C970.2,2271.0 975.8,2271.6 978.9,2271.1 C981.4,2270.7 983.0,2267.8 985.2,2268.0 C988.1,2268.1 991.6,2272.6 994.7,2274.3 C997.4,2275.7 999.7,2277.1 1002.6,2277.4 C1005.9,2277.8 1010.0,2276.1 1013.6,2275.9 C1016.9,2275.6 1019.9,2276.1 1023.1,2275.9 C1026.2,2275.6 1029.7,2275.7 1032.5,2274.3 C1035.5,2272.7 1037.6,2268.3 1040.4,2266.4 C1042.9,2264.8 1045.6,2263.2 1048.3,2263.2 C1050.9,2263.2 1054.0,2265.0 1056.2,2266.4 C1058.1,2267.7 1059.2,2271.1 1060.9,2271.1 C1062.8,2271.1 1064.6,2265.9 1067.2,2264.8 C1069.8,2263.7 1073.3,2264.6 1076.6,2264.8 C1080.6,2265.1 1085.5,2267.3 1089.3,2266.4 C1092.8,2265.6 1095.4,2261.4 1098.7,2260.1 C1101.7,2258.9 1105.4,2260.1 1108.2,2258.5 C1111.3,2256.7 1113.1,2250.8 1116.1,2249.1 C1118.5,2247.6 1121.2,2247.8 1123.9,2247.5 C1126.9,2247.2 1130.6,2248.6 1133.4,2247.5 C1136.4,2246.2 1139.0,2242.7 1141.3,2239.6 C1143.8,2236.1 1144.9,2230.7 1147.6,2227.0 C1150.2,2223.4 1154.0,2220.3 1157.0,2217.5 C1159.7,2215.1 1162.6,2212.9 1164.9,2211.2 C1166.7,2209.9 1168.1,2207.8 1169.6,2208.1 C1171.8,2208.5 1173.2,2215.4 1176.0,2217.5 C1178.5,2219.5 1182.8,2218.4 1185.4,2220.7 C1188.9,2223.7 1190.9,2231.1 1193.3,2236.4 C1195.6,2241.7 1197.6,2247.7 1199.6,2252.2 C1201.2,2255.8 1202.4,2259.0 1204.3,2261.7 C1206.1,2264.1 1208.6,2265.7 1210.6,2268.0 C1212.8,2270.4 1214.5,2273.2 1216.9,2275.9 C1219.7,2278.9 1223.4,2282.3 1226.4,2285.3 C1229.1,2288.1 1231.8,2290.7 1234.3,2293.2 C1236.5,2295.4 1238.1,2297.9 1240.6,2299.5 C1243.3,2301.1 1246.9,2301.4 1250.0,2302.6 C1253.2,2304.0 1256.9,2305.0 1259.5,2307.4 C1262.3,2310.0 1263.5,2315.4 1265.8,2318.4 C1267.7,2321.0 1269.5,2323.4 1272.1,2324.7 C1274.8,2326.1 1278.4,2326.0 1281.6,2326.3 C1284.7,2326.6 1287.9,2326.6 1291.0,2326.3 C1294.2,2326.0 1297.7,2324.6 1300.5,2324.7 C1302.8,2324.8 1304.6,2325.6 1306.8,2326.3 C1309.4,2327.1 1313.5,2330.2 1315.0,2329.4 C1316.1,2328.9 1315.3,2325.5 1316.3,2325.2 C1317.8,2324.6 1321.5,2329.7 1324.2,2329.9 C1326.8,2330.1 1329.4,2327.2 1332.1,2326.7 C1334.6,2326.2 1337.8,2325.8 1339.9,2326.7 C1341.9,2327.6 1343.1,2331.5 1344.7,2331.5 C1346.3,2331.5 1347.7,2327.1 1349.4,2326.7 C1350.9,2326.4 1352.4,2327.5 1354.1,2328.3 C1356.5,2329.4 1359.4,2333.2 1362.0,2333.0 C1364.7,2332.9 1367.0,2328.0 1369.9,2326.7 C1372.8,2325.5 1376.5,2325.0 1379.4,2325.2 C1381.7,2325.3 1383.7,2325.6 1385.7,2326.7 C1388.0,2328.0 1389.9,2333.3 1392.0,2333.0 C1394.7,2332.7 1397.4,2318.9 1399.8,2318.9 C1402.1,2318.8 1403.5,2329.2 1406.2,2329.9 C1408.4,2330.5 1411.5,2327.1 1414.0,2325.2 C1416.8,2323.0 1419.2,2317.6 1421.9,2317.3 C1424.4,2317.0 1427.2,2322.2 1429.8,2322.0 C1432.5,2321.8 1435.3,2315.4 1437.7,2315.7 C1440.0,2316.0 1441.9,2323.7 1444.0,2323.6 C1446.2,2323.5 1447.5,2316.5 1450.3,2314.1 C1453.2,2311.7 1457.4,2310.4 1461.3,2309.4 C1465.3,2308.3 1470.1,2307.2 1473.9,2307.8 C1477.4,2308.4 1480.8,2313.3 1483.4,2312.5 C1486.2,2311.7 1486.9,2302.4 1489.7,2301.5 C1492.3,2300.7 1496.6,2306.9 1499.2,2306.2 C1501.9,2305.5 1503.4,2299.9 1505.5,2296.8 C1507.6,2293.6 1509.3,2288.0 1511.8,2287.3 C1513.7,2286.8 1516.5,2291.1 1518.1,2290.5 C1519.9,2289.7 1519.2,2283.4 1521.2,2281.0 C1523.3,2278.6 1527.3,2277.6 1530.7,2276.3 C1534.2,2274.9 1538.1,2273.6 1541.7,2273.1 C1545.0,2272.7 1548.4,2271.8 1551.2,2273.1 C1554.3,2274.6 1556.1,2281.5 1559.1,2282.6 C1561.5,2283.4 1564.4,2280.6 1566.9,2281.0 C1569.7,2281.5 1572.0,2285.2 1574.8,2285.8 C1577.7,2286.3 1581.5,2285.8 1584.3,2284.2 C1587.4,2282.4 1589.8,2277.9 1592.2,2274.7 C1594.5,2271.6 1596.5,2268.7 1598.5,2265.3 C1600.7,2261.4 1602.4,2256.8 1604.8,2252.6 C1607.2,2248.4 1610.5,2244.4 1612.6,2240.0 C1614.7,2235.9 1615.9,2232.1 1617.4,2227.4 C1619.1,2221.8 1620.5,2214.8 1622.1,2208.5 C1623.7,2202.2 1624.8,2195.2 1626.8,2189.6 C1628.6,2184.9 1630.7,2181.0 1633.1,2177.0 C1635.5,2173.1 1638.4,2166.0 1641.0,2166.0 C1643.6,2166.0 1646.9,2172.4 1648.9,2177.0 C1651.5,2182.9 1652.1,2191.4 1653.6,2199.1 C1655.3,2207.2 1656.5,2215.9 1658.4,2224.3 C1660.3,2232.7 1663.0,2242.7 1665.0,2249.5 C1666.4,2254.2 1667.6,2256.6 1668.9,2261.3 C1670.6,2267.9 1671.6,2280.1 1674.1,2285.5 C1675.5,2288.8 1677.8,2289.3 1679.2,2292.5 C1681.6,2297.4 1681.5,2308.1 1684.4,2313.2 C1686.6,2317.1 1690.4,2318.5 1693.1,2321.9 C1696.2,2325.8 1698.5,2335.2 1701.8,2335.8 C1704.4,2336.2 1707.8,2328.7 1710.4,2328.8 C1712.9,2329.0 1714.7,2334.0 1717.3,2335.8 C1719.9,2337.5 1723.2,2337.8 1726.0,2339.2 C1729.0,2340.7 1731.7,2344.7 1734.7,2344.4 C1738.1,2344.2 1742.4,2335.3 1745.1,2335.8 C1747.4,2336.2 1747.7,2342.4 1750.3,2344.4 C1752.9,2346.5 1757.4,2346.7 1760.6,2347.9 C1763.7,2349.0 1766.4,2351.1 1769.3,2351.4 C1772.2,2351.6 1775.2,2350.2 1778.0,2349.6 C1780.4,2349.1 1782.7,2347.4 1784.9,2347.9 C1787.3,2348.4 1789.2,2352.5 1791.8,2353.1 C1794.4,2353.7 1797.6,2351.1 1800.5,2351.4 C1803.4,2351.6 1806.2,2354.5 1809.1,2354.8 C1812.0,2355.1 1814.8,2353.6 1817.8,2353.1 C1821.1,2352.5 1825.0,2350.5 1828.2,2351.4 C1831.4,2352.2 1833.6,2357.8 1836.8,2358.3 C1840.4,2358.8 1845.1,2353.0 1849.0,2353.1 C1852.6,2353.2 1855.8,2357.4 1859.4,2358.3 C1862.7,2359.1 1866.8,2357.1 1869.8,2358.3 C1872.6,2359.5 1874.3,2365.0 1876.7,2365.2 C1878.9,2365.4 1880.9,2360.7 1883.6,2360.0 C1886.6,2359.3 1890.6,2362.0 1894.0,2361.7 C1897.5,2361.5 1901.2,2357.9 1904.4,2358.3 C1907.5,2358.6 1909.9,2362.3 1913.1,2363.5 C1916.3,2364.7 1920.1,2364.9 1923.4,2365.2 C1926.5,2365.5 1929.3,2364.4 1932.1,2365.2 C1935.1,2366.0 1937.9,2370.6 1940.8,2370.4 C1943.7,2370.2 1946.4,2363.9 1949.4,2363.5 C1952.2,2363.1 1955.4,2365.5 1958.1,2366.9 C1960.6,2368.4 1962.2,2371.4 1965.0,2372.1 C1968.3,2373.0 1973.3,2370.1 1977.1,2370.4 C1980.8,2370.7 1983.9,2373.8 1987.5,2373.9 C1991.4,2373.9 1996.4,2369.6 1999.6,2370.4 C2002.5,2371.2 2004.1,2377.2 2006.6,2377.3 C2009.2,2377.5 2012.2,2370.8 2015.2,2370.4 C2018.0,2370.0 2021.1,2374.1 2023.9,2373.9 C2026.8,2373.6 2030.2,2368.2 2032.6,2368.7 C2034.7,2369.1 2037.8,2375.6 2037.8,2375.6" fill="none" stroke="#0000ff" stroke-width="5.0" stroke-linejoin="round" stroke-linecap="round" transform="translate(0,-0.5)"/><use href="#c6" transform="translate(0,1)"/>
<text x="380.0" y="1956.0" font-size="63.0" text-anchor="middle" font-weight="normal">t</text>
<text x="696.0" y="1703.4" font-size="63.0" text-anchor="middle" font-weight="normal">t</text>
<text x="822.0" y="1945.5" font-size="63.0" text-anchor="middle" font-weight="normal">t</text>
<text x="1170.0" y="2048.9" font-size="63.0" text-anchor="middle" font-weight="normal">t</text>
<text x="1537.0" y="2129.7" font-size="63.0" text-anchor="middle" font-weight="normal">t</text>
<text x="1649.0" y="2003.6" font-size="63.0" text-anchor="middle" font-weight="normal">t</text>
<text x="450.5" y="2755.5" font-size="63.0" text-anchor="middle" font-weight="normal">m</text>
<text x="521.6" y="2824.8" font-size="63.0" text-anchor="middle" font-weight="normal">m</text>
<text x="586.3" y="2872.0" font-size="63.0" text-anchor="middle" font-weight="normal">m</text>
<text x="781.8" y="2850.0" font-size="63.0" text-anchor="middle" font-weight="normal">m</text>
<text x="846.7" y="2785.4" font-size="63.0" text-anchor="middle" font-weight="normal">m</text>
<text x="901.3" y="2848.5" font-size="63.0" text-anchor="middle" font-weight="normal">m</text>
<text x="994.7" y="2858.3" font-size="63.0" text-anchor="middle" font-weight="normal">m</text>
<text x="1154.6" y="2714.9" font-size="63.0" text-anchor="middle" font-weight="normal">m</text>
<text x="1221.6" y="2710.0" font-size="63.0" text-anchor="middle" font-weight="normal">m</text>
<text x="1294.0" y="2413.0" font-size="63.0" text-anchor="middle" font-weight="normal">m</text>
<text x="1469.8" y="2388.0" font-size="63.0" text-anchor="middle" font-weight="normal">m</text>
<line x1="380.4" y1="2044.0" x2="380.4" y2="2088.0" stroke="#000" stroke-width="3.0"/>
<polygon points="370.9,2086.0 389.9,2086.0 380.4,2126.0" fill="#000"/>
<line x1="685.8" y1="1730.6" x2="685.8" y2="1771.2" stroke="#000" stroke-width="3.0"/>
<polygon points="676.3,1769.2 695.3,1769.2 685.8,1809.2" fill="#000"/>
<line x1="812.7" y1="1978.6" x2="812.7" y2="2022.6" stroke="#000" stroke-width="3.0"/>
<polygon points="803.2,2020.6 822.2,2020.6 812.7,2060.6" fill="#000"/>
<line x1="1173.7" y1="2107.0" x2="1173.7" y2="2149.6" stroke="#000" stroke-width="3.0"/>
<polygon points="1164.2,2147.6 1183.2,2147.6 1173.7,2187.6" fill="#000"/>
<line x1="1537.0" y1="2169.0" x2="1537.0" y2="2211.5" stroke="#000" stroke-width="3.0"/>
<polygon points="1527.5,2209.5 1546.5,2209.5 1537.0,2249.5" fill="#000"/>
<line x1="1644.8" y1="2033.5" x2="1644.8" y2="2072.8" stroke="#000" stroke-width="3.0"/>
<polygon points="1635.3,2070.8 1654.3,2070.8 1644.8,2110.8" fill="#000"/>
<line x1="1287.9" y1="2439.8" x2="1287.9" y2="2482.0" stroke="#000" stroke-width="3.0"/>
<polygon points="1278.4,2480.0 1297.4,2480.0 1287.9,2520.0" fill="#000"/>
<line x1="1472.7" y1="2394.5" x2="1472.7" y2="2437.0" stroke="#000" stroke-width="3.0"/>
<polygon points="1463.2,2435.0 1482.2,2435.0 1472.7,2475.0" fill="#000"/>
<line x1="461.8" y1="2795.0" x2="461.8" y2="2837.0" stroke="#000" stroke-width="3.0"/>
<polygon points="452.3,2835.0 471.3,2835.0 461.8,2875.0" fill="#000"/>
<line x1="489.5" y1="2819.0" x2="489.5" y2="2861.0" stroke="#000" stroke-width="3.0"/>
<polygon points="480.0,2859.0 499.0,2859.0 489.5,2899.0" fill="#000"/>
<line x1="578.4" y1="2906.0" x2="578.4" y2="2947.6" stroke="#000" stroke-width="3.0"/>
<polygon points="568.9,2945.6 587.9,2945.6 578.4,2985.6" fill="#000"/>
<line x1="779.3" y1="2894.0" x2="779.3" y2="2935.0" stroke="#000" stroke-width="3.0"/>
<polygon points="769.8,2933.0 788.8,2933.0 779.3,2973.0" fill="#000"/>
<line x1="852.8" y1="2818.5" x2="852.8" y2="2862.5" stroke="#000" stroke-width="3.0"/>
<polygon points="843.3,2860.5 862.3,2860.5 852.8,2900.5" fill="#000"/>
<line x1="888.4" y1="2867.4" x2="888.4" y2="2908.2" stroke="#000" stroke-width="3.0"/>
<polygon points="878.9,2906.2 897.9,2906.2 888.4,2946.2" fill="#000"/>
<line x1="978.3" y1="2864.6" x2="978.3" y2="2907.0" stroke="#000" stroke-width="3.0"/>
<polygon points="968.8,2905.0 987.8,2905.0 978.3,2945.0" fill="#000"/>
<line x1="1157.7" y1="2740.0" x2="1157.7" y2="2784.0" stroke="#000" stroke-width="3.0"/>
<polygon points="1148.2,2782.0 1167.2,2782.0 1157.7,2822.0" fill="#000"/>
<line x1="1230.5" y1="2721.0" x2="1230.5" y2="2766.7" stroke="#000" stroke-width="3.0"/>
<polygon points="1221.0,2764.7 1240.0,2764.7 1230.5,2804.7" fill="#000"/>
<line x1="1347.8" y1="2751.0" x2="1347.8" y2="2795.0" stroke="#000" stroke-width="3.0"/>
<polygon points="1338.3,2793.0 1357.3,2793.0 1347.8,2833.0" fill="#000"/>
<line x1="1418.1" y1="2661.0" x2="1418.1" y2="2703.7" stroke="#000" stroke-width="3.0"/>
<polygon points="1408.6,2701.7 1427.6,2701.7 1418.1,2741.7" fill="#000"/>
<line x1="1603.2" y1="2675.0" x2="1603.2" y2="2716.0" stroke="#000" stroke-width="3.0"/>
<polygon points="1593.7,2714.0 1612.7,2714.0 1603.2,2754.0" fill="#000"/>
<line x1="266.3" y1="3271.8" x2="266.3" y2="4608.5" stroke="#000" stroke-width="3.2"/>
<line x1="241.3" y1="4583.5" x2="267.7" y2="4583.5" stroke="#000" stroke-width="4.6"/>
<line x1="253.8" y1="4496.1" x2="267.7" y2="4496.1" stroke="#000" stroke-width="4.6"/>
<line x1="241.3" y1="4408.6" x2="267.7" y2="4408.6" stroke="#000" stroke-width="4.6"/>
<line x1="253.8" y1="4321.1" x2="267.7" y2="4321.1" stroke="#000" stroke-width="4.6"/>
<line x1="241.3" y1="4233.7" x2="267.7" y2="4233.7" stroke="#000" stroke-width="4.6"/>
<line x1="253.8" y1="4146.2" x2="267.7" y2="4146.2" stroke="#000" stroke-width="4.6"/>
<line x1="241.3" y1="4058.8" x2="267.7" y2="4058.8" stroke="#000" stroke-width="4.6"/>
<line x1="253.8" y1="3971.3" x2="267.7" y2="3971.3" stroke="#000" stroke-width="4.6"/>
<line x1="241.3" y1="3883.9" x2="267.7" y2="3883.9" stroke="#000" stroke-width="4.6"/>
<line x1="253.8" y1="3796.4" x2="267.7" y2="3796.4" stroke="#000" stroke-width="4.6"/>
<line x1="241.3" y1="3709.0" x2="267.7" y2="3709.0" stroke="#000" stroke-width="4.6"/>
<line x1="253.8" y1="3621.6" x2="267.7" y2="3621.6" stroke="#000" stroke-width="4.6"/>
<line x1="241.3" y1="3534.1" x2="267.7" y2="3534.1" stroke="#000" stroke-width="4.6"/>
<line x1="253.8" y1="3446.6" x2="267.7" y2="3446.6" stroke="#000" stroke-width="4.6"/>
<line x1="241.3" y1="3359.2" x2="267.7" y2="3359.2" stroke="#000" stroke-width="4.6"/>
<line x1="253.8" y1="3271.8" x2="267.7" y2="3271.8" stroke="#000" stroke-width="4.6"/>
<text x="221.0" y="4601.0" font-size="53.0" text-anchor="end" font-weight="normal">0.0</text>
<text x="221.0" y="4426.1" font-size="53.0" text-anchor="end" font-weight="normal">0.2</text>
<text x="221.0" y="4251.2" font-size="53.0" text-anchor="end" font-weight="normal">0.4</text>
<text x="221.0" y="4076.3" font-size="53.0" text-anchor="end" font-weight="normal">0.6</text>
<text x="221.0" y="3901.4" font-size="53.0" text-anchor="end" font-weight="normal">0.8</text>
<text x="221.0" y="3726.5" font-size="53.0" text-anchor="end" font-weight="normal">1.0</text>
<text x="221.0" y="3551.6" font-size="53.0" text-anchor="end" font-weight="normal">1.2</text>
<text x="221.0" y="3376.7" font-size="53.0" text-anchor="end" font-weight="normal">1.4</text>
<line x1="264.7" y1="4583.5" x2="2039.9" y2="4583.5" stroke="#000" stroke-width="5.0"/>
<line x1="266.3" y1="4583.5" x2="266.3" y2="4608.5" stroke="#000" stroke-width="3.2"/>
<line x1="392.9" y1="4583.5" x2="392.9" y2="4596.0" stroke="#000" stroke-width="3.2"/>
<line x1="519.4" y1="4583.5" x2="519.4" y2="4608.5" stroke="#000" stroke-width="3.2"/>
<line x1="646.0" y1="4583.5" x2="646.0" y2="4596.0" stroke="#000" stroke-width="3.2"/>
<line x1="772.6" y1="4583.5" x2="772.6" y2="4608.5" stroke="#000" stroke-width="3.2"/>
<line x1="899.2" y1="4583.5" x2="899.2" y2="4596.0" stroke="#000" stroke-width="3.2"/>
<line x1="1025.7" y1="4583.5" x2="1025.7" y2="4608.5" stroke="#000" stroke-width="3.2"/>
<line x1="1152.3" y1="4583.5" x2="1152.3" y2="4596.0" stroke="#000" stroke-width="3.2"/>
<line x1="1278.9" y1="4583.5" x2="1278.9" y2="4608.5" stroke="#000" stroke-width="3.2"/>
<line x1="1405.4" y1="4583.5" x2="1405.4" y2="4596.0" stroke="#000" stroke-width="3.2"/>
<line x1="1532.0" y1="4583.5" x2="1532.0" y2="4608.5" stroke="#000" stroke-width="3.2"/>
<line x1="1658.6" y1="4583.5" x2="1658.6" y2="4596.0" stroke="#000" stroke-width="3.2"/>
<line x1="1785.1" y1="4583.5" x2="1785.1" y2="4608.5" stroke="#000" stroke-width="3.2"/>
<line x1="1911.7" y1="4583.5" x2="1911.7" y2="4596.0" stroke="#000" stroke-width="3.2"/>
<line x1="2038.3" y1="4583.5" x2="2038.3" y2="4608.5" stroke="#000" stroke-width="3.2"/>
<text x="266.3" y="4671.0" font-size="53.0" text-anchor="middle" font-weight="normal">100</text>
<text x="519.4" y="4671.0" font-size="53.0" text-anchor="middle" font-weight="normal">200</text>
<text x="772.6" y="4671.0" font-size="53.0" text-anchor="middle" font-weight="normal">300</text>
<text x="1025.7" y="4671.0" font-size="53.0" text-anchor="middle" font-weight="normal">400</text>
<text x="1278.9" y="4671.0" font-size="53.0" text-anchor="middle" font-weight="normal">500</text>
<text x="1532.0" y="4671.0" font-size="53.0" text-anchor="middle" font-weight="normal">600</text>
<text x="1785.1" y="4671.0" font-size="53.0" text-anchor="middle" font-weight="normal">700</text>
<text x="2038.3" y="4671.0" font-size="53.0" text-anchor="middle" font-weight="normal">800</text>
<text x="851.6" y="4755.4" font-size="75">Raman shift, cm<tspan font-size="53" dy="-35.5">−1</tspan></text>
<text x="0" y="0" font-size="73" text-anchor="middle" transform="translate(76.4,3933.3) rotate(-90)">Intensity, a.u.</text>
<line x1="1736.0" y1="3330.5" x2="1886.5" y2="3330.5" stroke="#000000" stroke-width="5.5"/>
<text x="1901.0" y="3352.5" font-size="64.0" text-anchor="start" font-weight="normal">1</text>
<line x1="1736.0" y1="3409.3" x2="1886.5" y2="3409.3" stroke="#ff0000" stroke-width="5.5"/>
<text x="1901.0" y="3431.3" font-size="64.0" text-anchor="start" font-weight="normal">2</text>
<line x1="1736.0" y1="3488.0" x2="1886.5" y2="3488.0" stroke="#0000ff" stroke-width="5.5"/>
<text x="1901.0" y="3510.0" font-size="64.0" text-anchor="start" font-weight="normal">3</text>
<text x="279.0" y="3326.0" font-size="192.0" text-anchor="start" font-weight="bold">c</text>
<path id="c7" d="M266.3,4499.2 C266.3,4499.2 272.3,4496.4 275.8,4496.0 C279.6,4495.6 284.2,4497.9 288.4,4497.6 C292.6,4497.3 296.8,4495.4 301.0,4494.5 C305.2,4493.5 309.4,4492.6 313.6,4491.9 C317.8,4491.3 322.3,4491.5 326.2,4490.7 C329.6,4489.9 332.7,4488.5 335.7,4487.5 C338.4,4486.6 341.1,4486.6 343.5,4485.0 C346.5,4483.0 348.8,4478.7 351.4,4475.5 C354.1,4472.4 357.3,4469.9 359.3,4466.1 C361.7,4461.7 362.6,4456.2 364.0,4450.3 C365.8,4442.9 367.3,4434.0 368.8,4425.1 C370.4,4415.2 371.8,4403.3 373.5,4393.6 C375.0,4385.1 375.8,4375.5 378.2,4369.9 C379.8,4366.4 382.2,4361.8 383.9,4362.0 C386.1,4362.4 387.8,4371.4 389.3,4377.8 C391.4,4387.0 392.3,4401.5 394.0,4412.5 C395.5,4422.4 396.8,4432.8 398.7,4440.9 C400.1,4446.9 401.1,4452.2 403.4,4456.6 C405.5,4460.4 408.4,4463.4 411.3,4466.1 C414.2,4468.6 417.3,4470.6 420.8,4472.4 C424.6,4474.3 429.2,4475.5 433.4,4477.1 C437.6,4478.7 442.0,4480.2 446.0,4481.8 C449.8,4483.4 453.3,4485.6 457.0,4486.6 C460.6,4487.5 464.3,4487.3 468.1,4487.5 C472.1,4487.8 476.5,4488.3 480.7,4488.1 C484.9,4488.0 489.2,4487.0 493.3,4486.6 C497.1,4486.2 501.0,4486.5 504.3,4485.6 C507.3,4484.8 509.2,4483.1 512.2,4481.8 C515.9,4480.3 521.0,4478.8 524.8,4477.1 C528.2,4475.6 531.2,4474.2 534.3,4472.4 C537.5,4470.5 540.6,4468.4 543.7,4466.1 C547.0,4463.7 550.2,4461.2 553.2,4458.2 C556.4,4454.9 558.9,4451.6 562.0,4447.0 C566.3,4440.4 571.6,4430.3 575.8,4421.8 C579.9,4413.3 583.1,4403.8 586.9,4396.0 C590.1,4389.3 593.9,4383.7 596.8,4377.6 C599.5,4371.9 601.9,4366.5 604.0,4360.6 C606.2,4354.6 607.8,4348.1 609.6,4342.0 C611.3,4336.2 612.9,4330.7 614.6,4325.0 C616.3,4319.3 618.1,4313.7 619.6,4308.0 C621.1,4302.4 622.5,4296.7 623.8,4291.0 C625.1,4285.3 626.2,4279.6 627.4,4273.9 C628.6,4268.2 629.9,4262.5 631.0,4256.8 C632.1,4251.1 633.0,4245.6 633.8,4239.8 C634.6,4233.8 635.1,4227.7 635.9,4221.3 C636.8,4214.4 638.1,4206.6 638.8,4200.0 C639.4,4194.2 639.4,4190.0 639.9,4183.7 C640.7,4174.9 642.1,4162.7 643.1,4152.2 C644.2,4141.7 645.2,4131.2 646.3,4120.7 C647.3,4110.2 648.4,4099.7 649.4,4089.2 C650.5,4078.6 651.5,4068.1 652.6,4057.6 C653.6,4047.1 654.7,4036.6 655.7,4026.1 C656.8,4015.6 657.9,4004.0 658.9,3994.6 C659.6,3986.9 660.3,3981.5 660.9,3973.8 C661.7,3964.3 662.3,3952.5 663.0,3941.8 C663.7,3931.2 664.4,3920.5 665.2,3909.9 C666.0,3899.2 667.0,3888.6 667.8,3877.9 C668.6,3867.2 669.3,3856.6 670.0,3845.9 C670.7,3835.3 671.3,3824.6 672.1,3814.0 C672.9,3803.3 673.8,3791.9 674.8,3782.0 C675.6,3773.3 676.5,3764.5 677.5,3757.6 C678.2,3752.5 678.9,3749.1 679.7,3744.3 C680.6,3738.8 681.5,3731.8 682.4,3726.5 C683.1,3722.2 683.5,3717.8 684.5,3715.0 C685.1,3713.3 686.0,3711.0 686.8,3711.0 C687.5,3711.0 688.3,3713.4 689.0,3715.0 C689.9,3717.0 690.6,3719.1 691.3,3722.0 C692.4,3726.5 693.1,3733.9 693.9,3739.8 C694.7,3745.7 695.5,3751.2 696.2,3757.6 C697.1,3765.1 697.9,3773.3 698.7,3782.0 C699.6,3791.9 700.6,3803.3 701.4,3814.0 C702.2,3824.6 702.9,3835.3 703.5,3845.9 C704.1,3856.6 704.6,3867.2 705.1,3877.9 C705.6,3888.6 706.2,3899.2 706.7,3909.9 C707.2,3920.5 707.8,3931.2 708.3,3941.8 C708.8,3952.5 709.2,3961.2 709.9,3973.8 C710.9,3992.1 712.3,4019.3 713.6,4041.0 C714.8,4061.3 716.2,4080.1 717.5,4100.0 C718.8,4120.4 719.7,4138.8 721.6,4162.0 C724.1,4191.6 727.6,4232.4 731.7,4263.0 C735.2,4288.8 739.2,4314.0 743.8,4334.0 C747.2,4349.0 754.7,4373.0 755.0,4373.0 C755.0,4373.0 755.0,4372.9 755.0,4372.9 C755.2,4372.9 759.1,4383.7 761.3,4388.7 C763.3,4393.1 765.4,4397.4 767.6,4401.3 C769.6,4404.7 771.5,4408.0 773.9,4410.7 C776.2,4413.2 778.8,4415.5 781.8,4417.0 C785.0,4418.7 789.1,4419.4 792.8,4420.2 C796.5,4421.0 800.4,4420.9 803.9,4421.8 C807.2,4422.5 810.5,4423.2 813.3,4424.9 C816.3,4426.8 818.5,4430.0 821.2,4432.8 C824.2,4435.8 827.9,4438.7 830.7,4442.2 C833.7,4446.0 835.7,4450.7 838.6,4454.9 C841.5,4459.1 844.7,4463.3 848.0,4467.5 C851.5,4471.7 855.1,4476.1 859.1,4480.1 C863.0,4484.0 867.3,4487.9 871.7,4491.1 C875.7,4494.1 880.0,4496.9 884.3,4499.0 C888.4,4501.0 892.7,4502.1 896.9,4503.7 C901.1,4505.3 905.6,4506.4 909.5,4508.4 C913.4,4510.6 916.7,4514.5 920.5,4516.3 C924.1,4518.0 928.1,4518.1 931.6,4519.5 C934.9,4520.8 937.9,4522.6 941.0,4524.2 C944.2,4525.8 946.9,4527.9 950.5,4528.9 C954.7,4530.2 961.0,4529.6 965.0,4530.5 C968.0,4531.2 969.7,4532.4 972.6,4533.1 C976.3,4533.9 981.0,4534.1 985.2,4534.7 C989.4,4535.2 993.6,4536.0 997.8,4536.2 C1002.0,4536.5 1006.2,4536.0 1010.4,4536.2 C1014.7,4536.5 1018.8,4537.3 1023.1,4537.8 C1027.3,4538.3 1031.5,4538.9 1035.7,4539.4 C1039.9,4539.9 1044.1,4540.4 1048.3,4541.0 C1052.5,4541.5 1056.7,4542.1 1060.9,4542.5 C1065.1,4543.0 1069.3,4543.2 1073.5,4543.5 C1077.7,4543.7 1081.9,4544.0 1086.1,4544.1 C1090.3,4544.2 1094.5,4544.4 1098.7,4544.1 C1102.9,4543.8 1107.1,4543.1 1111.3,4542.5 C1115.5,4542.0 1119.9,4542.0 1123.9,4541.0 C1127.8,4539.9 1131.7,4538.2 1135.0,4536.2 C1138.0,4534.4 1140.4,4532.5 1142.8,4529.9 C1145.7,4526.9 1148.1,4522.6 1150.7,4518.9 C1153.4,4515.2 1156.0,4511.5 1158.6,4507.9 C1161.2,4504.2 1163.7,4500.1 1166.5,4496.8 C1169.0,4493.9 1171.7,4489.7 1174.4,4488.9 C1176.4,4488.4 1178.6,4489.5 1180.7,4490.5 C1183.3,4491.8 1186.2,4494.3 1188.6,4496.8 C1191.0,4499.5 1192.7,4502.8 1194.9,4506.3 C1197.4,4510.5 1199.6,4516.7 1202.7,4520.5 C1205.5,4523.8 1208.7,4525.1 1212.2,4528.3 C1217.3,4533.1 1223.6,4541.9 1230.0,4546.6 C1235.8,4550.9 1242.6,4553.0 1248.6,4556.0 C1254.1,4558.8 1258.9,4562.2 1264.6,4564.0 C1270.4,4565.8 1276.8,4565.7 1283.2,4566.6 C1290.1,4567.5 1297.4,4568.4 1304.5,4569.3 C1311.6,4570.2 1318.6,4571.5 1325.9,4572.0 C1333.6,4572.5 1341.6,4572.0 1349.8,4572.0 C1358.5,4572.0 1368.4,4571.7 1376.5,4572.0 C1383.3,4572.2 1388.7,4573.5 1395.1,4573.3 C1402.0,4573.1 1409.9,4571.3 1416.5,4570.6 C1422.2,4570.0 1427.1,4570.2 1432.4,4569.3 C1437.8,4568.3 1448.7,4564.8 1448.7,4564.8 C1448.7,4564.8 1457.1,4562.1 1461.3,4561.0 C1465.5,4560.0 1469.8,4559.9 1473.9,4558.5 C1478.2,4557.0 1482.3,4554.3 1486.5,4552.2 C1490.7,4550.1 1495.0,4548.2 1499.2,4545.9 C1503.4,4543.5 1507.5,4540.4 1511.8,4538.0 C1515.9,4535.7 1520.1,4533.6 1524.4,4531.7 C1528.5,4529.9 1532.7,4527.8 1537.0,4527.0 C1541.1,4526.2 1545.4,4527.2 1549.6,4527.0 C1553.8,4526.7 1558.1,4526.4 1562.2,4525.4 C1566.5,4524.4 1570.6,4522.3 1574.8,4520.7 C1579.0,4519.1 1583.9,4518.2 1587.4,4516.0 C1590.6,4513.9 1592.9,4511.4 1595.3,4508.1 C1598.3,4503.9 1600.4,4497.2 1603.2,4492.3 C1605.7,4487.8 1608.4,4483.9 1611.1,4479.7 C1613.7,4475.5 1616.7,4471.9 1619.0,4467.1 C1621.6,4461.6 1623.2,4454.5 1625.3,4448.2 C1627.4,4441.9 1628.7,4434.0 1631.6,4429.3 C1633.7,4425.7 1637.2,4423.8 1639.4,4421.4 C1641.3,4419.4 1642.7,4416.1 1644.2,4415.7 C1645.1,4415.5 1645.9,4416.0 1646.8,4416.8 C1648.7,4418.7 1650.7,4424.9 1652.4,4429.9 C1654.5,4436.2 1656.2,4444.2 1657.9,4452.2 C1660.0,4461.4 1661.6,4472.4 1663.5,4482.0 C1665.3,4491.0 1667.1,4500.2 1669.1,4508.1 C1670.9,4514.9 1672.4,4521.0 1674.7,4526.7 C1676.8,4532.1 1679.5,4537.1 1682.2,4541.6 C1684.5,4545.7 1686.7,4549.7 1689.6,4552.8 C1692.3,4555.8 1695.7,4558.1 1698.9,4560.3 C1702.0,4562.4 1704.9,4564.3 1708.2,4565.9 C1711.7,4567.5 1715.4,4568.7 1719.4,4569.6 C1724.0,4570.6 1729.1,4570.8 1734.3,4571.4 C1740.2,4572.2 1746.7,4573.4 1753.0,4574.1 C1759.1,4574.7 1765.4,4574.9 1771.6,4575.2 C1777.8,4575.5 1784.0,4575.9 1790.2,4575.9 C1796.4,4575.9 1802.6,4575.3 1808.8,4575.2 C1815.0,4575.0 1821.3,4575.0 1827.5,4575.2 C1833.7,4575.3 1839.9,4575.8 1846.1,4575.9 C1852.3,4576.0 1858.5,4575.9 1864.7,4575.9 C1870.9,4575.9 1877.1,4575.9 1883.4,4575.9 C1889.6,4575.9 1895.8,4575.7 1902.0,4575.9 C1908.2,4576.1 1914.4,4576.5 1920.6,4577.0 C1926.8,4577.5 1933.4,4578.2 1939.2,4578.9 C1944.5,4579.5 1948.9,4580.2 1954.1,4580.8 C1960.0,4581.4 1966.6,4582.3 1972.8,4582.6 C1979.0,4582.9 1984.9,4582.6 1991.4,4582.6 C1998.5,4582.6 2006.6,4582.8 2013.8,4582.6 C2020.2,4582.5 2027.6,4582.3 2032.4,4581.9 C2035.4,4581.6 2039.8,4580.8 2039.8,4580.8" fill="none" stroke="#000000" stroke-width="5.0" stroke-linejoin="round" stroke-linecap="round" transform="translate(0,-0.5)"/><use href="#c7" transform="translate(0,1)"/>
<path id="c8" d="M266.3,4292.7 C266.3,4292.7 271.9,4284.0 275.8,4281.7 C279.4,4279.4 284.5,4278.7 288.4,4278.5 C291.7,4278.4 295.3,4281.2 297.8,4280.1 C300.6,4278.9 301.5,4272.7 304.1,4270.6 C306.4,4268.8 309.3,4268.7 312.0,4267.5 C315.1,4266.1 318.5,4264.4 321.5,4262.7 C324.3,4261.2 326.8,4259.8 329.4,4258.0 C332.0,4256.1 335.0,4254.6 337.2,4251.7 C340.0,4248.1 340.9,4241.4 343.5,4237.5 C345.8,4234.3 349.4,4233.4 351.4,4229.6 C354.5,4223.9 354.6,4212.8 356.2,4204.4 C357.7,4196.0 359.6,4188.5 360.9,4179.2 C362.4,4167.9 363.0,4154.7 364.0,4141.4 C365.2,4126.5 366.1,4109.8 367.2,4094.1 C368.2,4078.3 369.2,4061.7 370.3,4046.8 C371.3,4033.5 372.3,4022.3 373.5,4009.0 C374.9,3994.1 374.4,3963.5 378.2,3961.7 C379.5,3961.0 381.7,3962.8 383.0,3964.8 C385.6,3969.0 385.2,3980.2 386.1,3990.0 C387.4,4004.0 388.1,4024.9 389.3,4040.5 C390.2,4054.0 391.4,4065.0 392.4,4078.3 C393.5,4093.2 394.4,4111.1 395.6,4125.6 C396.5,4138.1 397.6,4149.3 398.7,4160.3 C399.7,4170.2 400.0,4180.2 401.9,4188.7 C403.4,4195.7 406.0,4201.6 408.2,4207.6 C410.2,4213.1 412.1,4218.8 414.5,4223.3 C416.4,4227.0 418.6,4229.8 420.8,4232.8 C422.8,4235.6 424.5,4238.6 427.1,4240.7 C429.7,4242.8 433.4,4243.6 436.5,4245.4 C439.8,4247.3 442.8,4249.6 446.0,4251.7 C449.2,4253.8 452.4,4256.1 455.5,4258.0 C458.2,4259.7 460.5,4262.2 463.3,4262.7 C466.3,4263.3 469.7,4260.9 472.8,4261.2 C476.0,4261.4 479.1,4264.3 482.3,4264.3 C485.4,4264.3 488.4,4261.9 491.7,4261.2 C495.2,4260.3 499.2,4260.1 502.7,4259.6 C506.0,4259.1 509.3,4259.1 512.2,4258.0 C515.1,4257.0 517.3,4254.8 520.1,4253.3 C523.1,4251.6 526.5,4249.6 529.5,4248.5 C532.2,4247.6 535.2,4248.4 537.4,4247.0 C540.0,4245.4 541.2,4240.6 543.7,4239.1 C546.0,4237.7 549.2,4239.0 551.6,4237.5 C554.7,4235.5 557.2,4230.5 559.5,4226.5 C562.0,4222.1 563.2,4217.4 566.0,4212.0 C569.7,4204.6 576.3,4194.8 580.4,4186.6 C584.1,4179.2 586.7,4172.3 590.0,4165.0 C593.4,4157.4 597.4,4149.5 600.5,4142.0 C603.3,4135.2 605.6,4128.7 608.0,4122.0 C610.4,4115.3 612.7,4108.5 614.7,4101.8 C616.7,4095.2 618.3,4088.7 620.0,4082.0 C621.7,4075.2 623.1,4068.3 624.8,4061.5 C626.5,4054.7 628.3,4047.8 630.0,4041.0 C631.7,4034.3 633.5,4027.9 634.9,4021.0 C636.4,4013.6 637.4,4005.8 638.6,3998.0 C639.8,3990.0 641.1,3982.4 642.3,3973.8 C643.6,3963.9 644.8,3952.5 646.0,3941.8 C647.2,3931.2 648.6,3920.5 649.7,3909.9 C650.9,3899.2 651.9,3888.6 652.9,3877.9 C653.9,3867.2 654.7,3856.6 655.6,3845.9 C656.5,3835.3 657.3,3824.6 658.2,3814.0 C659.1,3803.3 659.9,3792.7 660.9,3782.0 C661.9,3771.3 663.3,3759.9 664.1,3750.0 C664.8,3741.6 664.9,3734.6 665.5,3726.5 C666.1,3717.9 667.0,3708.8 667.7,3699.9 C668.5,3691.0 669.2,3682.1 670.0,3673.2 C670.7,3664.3 671.5,3655.5 672.2,3646.6 C672.9,3637.7 673.6,3628.8 674.4,3619.9 C675.2,3611.0 676.1,3602.2 677.1,3593.3 C678.1,3584.4 679.4,3574.7 680.6,3566.6 C681.6,3559.8 682.3,3553.6 683.5,3548.0 C684.5,3543.2 685.8,3535.0 687.0,3535.0 C688.1,3535.0 689.5,3541.4 690.5,3546.0 C692.1,3553.4 692.9,3565.9 693.9,3575.5 C694.9,3584.6 695.8,3593.3 696.6,3602.2 C697.4,3611.1 698.1,3619.9 698.8,3628.8 C699.5,3637.7 700.3,3646.6 701.0,3655.5 C701.7,3664.4 702.1,3673.2 702.8,3682.1 C703.5,3691.0 704.3,3699.8 705.0,3708.7 C705.7,3717.6 706.1,3725.3 706.8,3735.4 C707.7,3748.8 708.9,3767.9 709.9,3782.0 C710.7,3793.7 711.3,3803.3 712.1,3814.0 C712.9,3824.6 713.8,3835.3 714.7,3845.9 C715.6,3856.6 716.4,3867.2 717.4,3877.9 C718.4,3888.6 719.6,3899.2 720.6,3909.9 C721.6,3920.5 722.4,3931.2 723.3,3941.8 C724.2,3952.5 725.1,3962.6 725.9,3973.8 C726.8,3986.0 727.3,3999.7 728.5,4012.2 C729.6,4024.2 731.1,4036.4 732.8,4047.2 C734.3,4056.6 735.9,4065.6 738.0,4073.4 C739.8,4079.9 742.0,4085.1 744.2,4090.9 C746.4,4096.7 748.9,4103.6 751.2,4108.3 C752.9,4111.8 754.7,4113.5 756.4,4117.0 C758.8,4121.7 760.2,4129.9 763.4,4134.5 C766.0,4138.3 769.8,4143.3 773.0,4143.3 C776.2,4143.3 780.2,4138.2 782.6,4134.5 C785.3,4130.3 785.5,4122.0 787.9,4118.8 C789.4,4116.9 791.6,4117.3 793.1,4115.3 C795.7,4111.7 796.4,4101.6 798.4,4096.0 C800.0,4091.4 800.8,4086.8 803.6,4083.9 C806.4,4081.1 811.7,4078.1 815.0,4078.6 C818.0,4079.0 820.5,4082.5 822.8,4085.6 C825.7,4089.6 827.5,4095.8 829.8,4101.3 C832.3,4107.4 834.8,4114.0 837.0,4120.7 C839.3,4127.8 841.2,4135.4 843.3,4142.7 C845.4,4150.1 847.5,4157.5 849.6,4164.8 C851.7,4172.2 854.0,4179.8 855.9,4186.9 C857.7,4193.4 858.6,4200.2 860.6,4205.8 C862.4,4210.5 864.3,4214.7 866.9,4218.4 C869.5,4222.0 873.8,4224.3 876.4,4227.9 C879.1,4231.6 880.7,4236.6 882.7,4240.5 C884.4,4243.9 885.0,4247.8 887.4,4249.9 C889.8,4252.0 893.9,4251.7 896.9,4253.1 C899.7,4254.4 902.5,4255.6 904.8,4257.8 C907.3,4260.2 908.8,4264.5 911.1,4267.3 C913.1,4269.7 914.8,4272.8 917.4,4273.6 C920.0,4274.4 923.8,4271.5 926.8,4272.0 C930.1,4272.5 933.5,4274.4 936.3,4276.7 C939.4,4279.4 941.0,4285.1 944.2,4287.8 C946.9,4290.1 950.4,4290.6 953.6,4292.5 C957.3,4294.7 963.1,4299.0 965.0,4300.4 C965.6,4300.9 965.6,4301.1 966.3,4301.4 C968.0,4301.9 972.4,4301.2 975.8,4301.4 C979.7,4301.6 984.2,4302.4 988.4,4302.9 C992.6,4303.5 997.1,4303.6 1001.0,4304.5 C1004.4,4305.3 1007.0,4307.1 1010.4,4307.7 C1014.3,4308.3 1018.9,4307.9 1023.1,4307.7 C1027.3,4307.4 1031.5,4305.6 1035.7,4306.1 C1039.9,4306.6 1044.0,4310.0 1048.3,4310.8 C1052.4,4311.6 1056.7,4310.3 1060.9,4310.8 C1065.1,4311.3 1070.0,4313.1 1073.5,4314.0 C1076.0,4314.6 1077.6,4315.9 1079.8,4315.5 C1082.7,4315.0 1086.0,4310.0 1089.3,4309.2 C1092.3,4308.6 1095.7,4311.6 1098.7,4310.8 C1102.1,4309.9 1104.9,4305.1 1108.2,4302.9 C1111.2,4300.9 1114.9,4300.2 1117.6,4298.2 C1120.1,4296.4 1121.8,4294.3 1123.9,4291.9 C1126.5,4289.1 1129.5,4286.0 1131.8,4282.4 C1134.3,4278.7 1136.2,4274.5 1138.1,4269.8 C1140.4,4264.2 1142.6,4257.3 1144.4,4250.9 C1146.3,4244.7 1147.6,4238.3 1149.2,4232.0 C1150.7,4225.7 1152.3,4219.4 1153.9,4213.1 C1155.5,4206.8 1157.0,4200.5 1158.6,4194.2 C1160.2,4187.9 1161.6,4180.9 1163.3,4175.3 C1164.8,4170.6 1166.3,4166.3 1168.1,4162.6 C1169.5,4159.6 1170.9,4155.9 1172.8,4154.8 C1174.2,4154.0 1176.1,4154.0 1177.5,4154.8 C1179.5,4155.9 1180.9,4159.3 1182.3,4162.6 C1184.3,4167.5 1185.4,4175.3 1187.0,4181.6 C1188.6,4187.9 1190.2,4193.9 1191.7,4200.5 C1193.4,4207.5 1194.6,4216.3 1196.4,4222.5 C1197.9,4227.4 1199.7,4230.7 1201.2,4235.2 C1202.8,4240.1 1204.1,4245.7 1205.9,4250.9 C1207.8,4256.2 1209.4,4262.9 1212.2,4266.7 C1214.4,4269.6 1217.6,4270.5 1220.1,4273.0 C1222.9,4275.7 1225.7,4278.8 1228.0,4282.4 C1230.5,4286.5 1232.1,4292.1 1234.3,4296.6 C1236.3,4301.0 1238.4,4305.2 1240.6,4309.2 C1242.6,4313.1 1244.5,4316.8 1246.9,4320.3 C1249.2,4323.7 1251.7,4327.6 1254.8,4329.7 C1257.5,4331.6 1261.3,4331.3 1264.2,4332.9 C1267.1,4334.5 1269.2,4337.6 1272.1,4339.2 C1275.0,4340.8 1278.6,4341.2 1281.6,4342.3 C1284.3,4343.4 1286.6,4345.0 1289.4,4345.5 C1292.4,4346.1 1295.9,4345.2 1298.9,4345.5 C1301.7,4345.8 1304.1,4346.6 1306.8,4347.1 C1309.5,4347.6 1312.7,4348.9 1315.0,4348.7 C1316.7,4348.5 1317.7,4346.8 1319.5,4346.7 C1322.0,4346.6 1325.5,4349.0 1328.9,4349.8 C1332.8,4350.7 1337.3,4351.4 1341.5,4351.4 C1345.7,4351.4 1349.9,4350.1 1354.1,4349.8 C1358.3,4349.6 1362.8,4349.6 1366.7,4349.8 C1370.1,4350.0 1373.4,4350.1 1376.2,4350.8 C1378.6,4351.3 1380.2,4353.1 1382.5,4353.0 C1385.4,4352.8 1388.5,4349.5 1392.0,4348.2 C1395.8,4346.8 1400.4,4345.9 1404.6,4345.1 C1408.8,4344.3 1413.3,4344.1 1417.2,4343.5 C1420.6,4343.0 1423.8,4343.2 1426.6,4341.9 C1429.6,4340.6 1431.7,4336.9 1434.5,4335.6 C1437.0,4334.5 1439.8,4335.2 1442.4,4334.1 C1445.5,4332.8 1448.8,4330.1 1451.9,4327.8 C1455.1,4325.4 1458.2,4321.8 1461.3,4319.9 C1463.9,4318.3 1467.2,4318.6 1469.2,4316.7 C1471.5,4314.6 1471.8,4309.9 1473.9,4307.3 C1476.0,4304.7 1479.2,4303.1 1481.8,4301.0 C1484.4,4298.9 1487.4,4297.2 1489.7,4294.7 C1492.2,4292.0 1493.7,4288.3 1496.0,4285.2 C1498.4,4282.0 1501.6,4278.6 1503.9,4275.7 C1505.7,4273.4 1507.2,4272.0 1508.6,4269.4 C1510.5,4266.1 1511.4,4260.6 1513.3,4256.8 C1515.1,4253.3 1517.9,4251.1 1519.6,4247.4 C1521.7,4242.9 1522.3,4236.1 1524.4,4231.6 C1526.1,4227.9 1528.3,4224.6 1530.7,4222.1 C1532.6,4220.1 1534.7,4218.7 1537.0,4217.4 C1539.4,4216.1 1542.3,4214.1 1544.9,4214.3 C1547.5,4214.5 1549.8,4217.9 1552.7,4219.0 C1556.0,4220.2 1560.6,4221.6 1563.8,4220.6 C1566.9,4219.5 1569.1,4215.5 1571.7,4212.7 C1574.4,4209.7 1577.1,4206.4 1579.5,4203.2 C1581.9,4200.1 1584.1,4197.5 1585.9,4193.8 C1587.9,4189.3 1588.7,4182.3 1590.6,4178.0 C1592.0,4174.8 1593.8,4173.0 1595.3,4170.1 C1597.0,4166.8 1598.6,4163.3 1600.0,4159.1 C1601.9,4153.7 1603.2,4146.7 1604.8,4140.2 C1606.4,4133.1 1608.2,4125.7 1609.5,4118.1 C1610.9,4110.0 1611.6,4101.0 1612.6,4092.9 C1613.7,4085.3 1614.7,4078.2 1615.8,4070.8 C1616.9,4063.5 1617.9,4055.8 1619.0,4048.8 C1620.0,4042.2 1621.0,4035.8 1622.1,4029.8 C1623.1,4024.3 1624.0,4019.3 1625.3,4014.1 C1626.6,4008.8 1628.4,4003.6 1630.0,3998.3 C1631.6,3993.1 1633.1,3986.8 1634.7,3982.5 C1635.9,3979.4 1637.1,3974.7 1638.5,3974.7 C1640.2,3974.7 1642.6,3981.7 1644.2,3986.5 C1646.3,3993.4 1647.3,4003.1 1648.6,4012.6 C1650.2,4023.9 1651.1,4037.4 1652.4,4049.8 C1653.6,4062.3 1654.8,4074.7 1656.1,4087.1 C1657.3,4099.5 1658.6,4111.9 1659.8,4124.4 C1661.0,4136.8 1662.2,4149.9 1663.5,4161.6 C1664.7,4172.1 1666.0,4181.8 1667.3,4191.4 C1668.5,4200.4 1669.7,4208.8 1671.0,4217.5 C1672.2,4226.2 1673.5,4234.6 1674.7,4243.6 C1676.0,4253.2 1676.7,4264.2 1678.4,4273.4 C1679.9,4281.4 1682.0,4289.1 1684.0,4295.7 C1685.7,4301.3 1687.7,4305.7 1689.6,4310.6 C1691.5,4315.6 1692.9,4321.1 1695.2,4325.5 C1697.3,4329.7 1700.2,4333.0 1702.7,4336.7 C1705.1,4340.4 1707.3,4344.5 1710.1,4347.9 C1712.9,4351.3 1716.1,4354.7 1719.4,4357.2 C1722.4,4359.5 1725.6,4360.9 1728.7,4362.8 C1731.8,4364.7 1734.7,4366.9 1738.0,4368.4 C1741.5,4370.0 1745.5,4370.9 1749.2,4372.1 C1753.0,4373.4 1756.9,4374.5 1760.4,4375.8 C1763.7,4377.0 1766.6,4378.3 1769.7,4379.6 C1772.8,4380.8 1775.7,4382.4 1779.0,4383.3 C1782.5,4384.3 1786.5,4384.8 1790.2,4385.2 C1793.9,4385.5 1797.7,4384.8 1801.4,4385.2 C1805.1,4385.5 1808.9,4386.1 1812.6,4387.0 C1816.3,4388.0 1819.7,4389.7 1823.7,4390.7 C1828.3,4391.9 1833.7,4392.4 1838.6,4393.4 C1843.6,4394.3 1848.6,4395.5 1853.5,4396.3 C1858.5,4397.1 1863.5,4397.6 1868.5,4398.2 C1873.4,4398.8 1878.4,4399.4 1883.4,4400.1 C1888.3,4400.7 1893.3,4401.6 1898.3,4401.9 C1903.2,4402.2 1908.2,4402.2 1913.2,4401.9 C1918.1,4401.6 1923.4,4400.3 1928.1,4400.1 C1932.0,4399.8 1936.0,4399.3 1939.2,4400.1 C1942.1,4400.7 1944.0,4403.8 1946.7,4403.8 C1950.0,4403.8 1953.7,4399.2 1957.9,4398.2 C1962.4,4397.1 1967.8,4397.9 1972.8,4398.2 C1977.7,4398.5 1983.1,4400.2 1987.7,4400.1 C1991.7,4400.0 1994.9,4398.8 1998.9,4398.2 C2003.5,4397.5 2008.8,4396.8 2013.8,4396.3 C2018.7,4395.9 2024.1,4395.9 2028.7,4395.6 C2032.7,4395.3 2039.8,4394.5 2039.8,4394.5" fill="none" stroke="#ff0000" stroke-width="5.0" stroke-linejoin="round" stroke-linecap="round" transform="translate(0,-0.5)"/><use href="#c8" transform="translate(0,1)"/>
<path id="c9" d="M266.3,4105.1 C266.3,4105.1 270.1,4100.6 272.6,4098.8 C275.3,4096.9 278.9,4095.6 282.1,4094.1 C285.2,4092.5 288.3,4090.7 291.5,4089.3 C294.6,4088.1 298.0,4087.5 301.0,4086.2 C303.8,4084.9 306.6,4083.6 308.9,4081.5 C311.4,4079.0 312.6,4074.4 315.2,4072.0 C317.4,4069.8 320.4,4068.6 323.1,4067.3 C325.6,4066.0 328.9,4066.1 330.9,4064.1 C333.4,4061.8 333.7,4056.8 335.7,4053.1 C337.8,4048.9 341.2,4045.0 343.5,4040.5 C346.0,4035.6 348.1,4030.5 349.8,4024.7 C351.9,4018.1 353.1,4010.5 354.6,4002.6 C356.3,3993.8 358.0,3984.2 359.3,3974.3 C360.7,3963.3 361.5,3951.9 362.5,3939.6 C363.6,3925.8 364.6,3910.9 365.6,3895.5 C366.7,3878.5 367.8,3860.5 368.8,3841.9 C369.9,3821.7 371.0,3798.3 371.9,3778.8 C372.7,3761.9 373.3,3745.7 374.1,3731.5 C374.8,3720.0 375.6,3709.6 376.5,3700.0 C377.3,3692.0 377.9,3683.5 379.0,3678.0 C379.7,3674.6 380.5,3670.0 381.3,3670.0 C382.1,3670.0 383.1,3674.6 383.8,3678.0 C385.0,3683.5 385.6,3690.8 386.3,3700.0 C387.6,3715.6 388.3,3740.9 389.3,3763.1 C390.3,3787.9 391.2,3818.9 392.4,3841.9 C393.4,3859.6 394.4,3875.0 395.6,3889.2 C396.5,3900.7 397.5,3909.3 398.7,3920.7 C400.1,3934.2 401.6,3952.2 403.4,3964.8 C404.9,3974.4 406.4,3982.4 408.2,3990.0 C409.6,3996.4 411.0,4001.8 412.9,4007.4 C414.7,4012.8 416.5,4019.0 419.2,4023.1 C421.4,4026.5 424.7,4028.1 427.1,4031.0 C429.5,4033.9 430.8,4038.4 433.4,4040.5 C435.6,4042.3 438.6,4042.4 441.3,4043.6 C444.3,4045.0 448.1,4046.1 450.7,4048.4 C453.4,4050.7 454.1,4056.0 457.0,4057.8 C459.9,4059.6 464.3,4058.9 468.1,4059.4 C472.1,4059.9 476.5,4060.4 480.7,4061.0 C484.9,4061.5 489.1,4062.3 493.3,4062.5 C497.5,4062.8 502.0,4063.2 505.9,4062.5 C509.3,4062.0 512.5,4059.9 515.4,4059.4 C517.6,4059.0 519.7,4060.3 521.7,4059.4 C524.5,4058.1 526.6,4051.0 529.5,4049.9 C531.9,4049.1 535.1,4052.4 537.4,4051.5 C540.5,4050.3 542.5,4043.7 545.3,4040.5 C547.8,4037.5 550.3,4035.0 553.2,4032.6 C556.1,4030.2 560.0,4028.7 562.6,4026.3 C565.2,4024.0 567.0,4021.6 569.0,4018.4 C571.3,4014.5 572.7,4008.3 575.3,4004.2 C577.5,4000.6 581.1,3997.9 583.1,3994.8 C584.9,3992.1 585.6,3989.8 587.1,3987.0 C588.8,3983.7 591.2,3980.2 592.8,3976.3 C594.6,3972.0 595.6,3966.4 597.0,3962.0 C598.2,3958.2 599.2,3954.9 600.6,3951.4 C602.0,3947.8 604.0,3944.3 605.6,3940.8 C607.1,3937.4 608.4,3934.2 609.8,3930.8 C611.3,3927.2 612.9,3923.2 614.1,3919.5 C615.3,3915.9 616.0,3912.4 617.0,3908.8 C617.9,3905.3 618.9,3901.7 619.8,3898.2 C620.7,3894.6 621.7,3891.1 622.6,3887.5 C623.6,3883.9 624.5,3880.4 625.5,3876.8 C626.4,3873.3 627.4,3869.7 628.3,3866.2 C629.3,3862.6 630.3,3859.3 631.2,3855.5 C632.2,3851.1 633.1,3846.0 634.0,3841.3 C634.9,3836.6 635.8,3831.7 636.8,3827.1 C637.8,3822.6 639.1,3819.4 640.1,3814.0 C641.6,3805.7 642.7,3792.7 643.9,3782.0 C645.0,3771.3 645.7,3759.8 647.0,3750.0 C648.1,3741.5 649.8,3734.6 650.9,3726.5 C652.1,3717.9 653.1,3708.8 654.0,3699.9 C655.0,3691.0 655.8,3682.1 656.6,3673.2 C657.4,3664.3 658.2,3655.5 658.9,3646.6 C659.6,3637.7 659.9,3628.8 660.6,3619.9 C661.3,3611.0 662.2,3602.2 662.9,3593.3 C663.7,3584.4 664.4,3575.5 665.1,3566.6 C665.8,3557.7 666.2,3547.4 666.9,3540.0 C667.4,3534.7 667.9,3531.9 668.4,3526.5 C669.1,3518.3 669.9,3505.8 670.6,3495.4 C671.4,3485.0 672.2,3474.3 672.9,3464.3 C673.5,3455.1 674.0,3446.6 674.6,3437.7 C675.2,3428.8 675.5,3419.0 676.4,3411.0 C677.1,3404.5 678.2,3399.0 679.1,3393.3 C680.0,3387.8 680.8,3382.4 681.7,3377.3 C682.5,3372.7 682.8,3367.1 684.0,3364.0 C684.7,3362.2 685.7,3360.0 686.6,3360.0 C687.5,3360.0 688.4,3362.4 689.2,3364.0 C690.1,3366.0 690.8,3368.0 691.5,3371.0 C692.7,3376.3 693.4,3385.5 694.2,3393.3 C695.1,3401.8 696.0,3411.1 696.8,3420.0 C697.6,3428.9 698.3,3437.7 699.1,3446.6 C699.8,3455.5 700.6,3464.3 701.3,3473.2 C702.0,3482.1 702.8,3491.0 703.5,3499.9 C704.2,3508.8 705.1,3519.1 705.7,3526.5 C706.1,3531.8 706.4,3534.7 706.8,3540.0 C707.4,3547.4 708.3,3557.7 709.0,3566.6 C709.7,3575.5 710.2,3584.4 710.8,3593.3 C711.4,3602.2 712.0,3611.0 712.6,3619.9 C713.2,3628.8 713.7,3637.7 714.4,3646.6 C715.1,3655.5 715.9,3664.3 716.6,3673.2 C717.3,3682.1 718.0,3691.0 718.8,3699.9 C719.6,3708.8 720.7,3717.9 721.5,3726.5 C722.2,3734.6 722.5,3741.6 723.3,3750.0 C724.2,3759.9 725.5,3772.4 727.0,3782.0 C728.2,3789.8 729.9,3796.2 731.2,3803.3 C732.5,3810.4 733.7,3817.5 735.0,3824.6 C736.2,3831.7 737.4,3838.8 738.7,3845.9 C740.0,3853.0 741.6,3860.1 743.0,3867.2 C744.4,3874.3 745.2,3881.7 747.2,3888.5 C749.1,3895.1 751.9,3902.1 754.7,3907.3 C756.9,3911.4 759.2,3914.8 761.7,3917.8 C763.9,3920.5 766.4,3925.0 768.7,3924.8 C771.5,3924.6 774.5,3917.9 777.1,3913.8 C780.0,3909.1 782.7,3903.8 785.0,3898.0 C787.5,3891.4 788.8,3882.2 791.3,3875.9 C793.2,3871.0 795.8,3868.1 797.6,3863.3 C799.6,3857.8 800.7,3850.4 802.3,3844.4 C803.8,3838.9 804.5,3832.5 807.0,3828.7 C809.1,3825.7 812.6,3822.0 814.9,3822.3 C817.4,3822.7 819.3,3828.0 821.2,3831.8 C823.7,3836.9 825.4,3844.4 827.5,3850.7 C829.6,3857.0 831.9,3862.8 833.8,3869.6 C836.1,3877.4 838.0,3886.7 840.1,3894.9 C842.2,3902.5 844.3,3909.6 846.4,3916.9 C848.5,3924.3 850.9,3931.9 852.7,3939.0 C854.5,3945.5 855.7,3951.4 857.5,3957.9 C859.4,3965.0 861.5,3973.3 863.8,3980.0 C865.7,3985.7 867.8,3990.3 870.1,3995.7 C872.5,4001.8 875.2,4008.7 878.0,4014.7 C880.5,4020.2 882.7,4026.0 885.9,4030.4 C888.6,4034.2 891.8,4037.2 895.3,4039.9 C898.7,4042.5 903.4,4043.4 906.3,4046.2 C909.1,4048.8 910.0,4053.0 912.6,4055.6 C915.3,4058.3 919.3,4059.4 922.1,4061.9 C925.1,4064.6 926.9,4068.8 930.0,4071.4 C933.2,4074.1 937.5,4075.5 941.0,4077.7 C944.3,4079.8 946.9,4082.3 950.5,4084.0 C954.7,4086.0 962.7,4086.2 965.0,4088.7 C966.5,4090.4 965.0,4093.8 966.3,4094.9 C967.8,4096.1 971.8,4093.7 974.2,4094.9 C977.2,4096.3 978.9,4102.5 982.1,4104.3 C984.8,4105.9 988.2,4105.2 991.5,4105.9 C995.4,4106.7 999.9,4108.5 1004.1,4109.1 C1008.3,4109.6 1012.6,4108.8 1016.7,4109.1 C1021.0,4109.3 1025.5,4110.7 1029.4,4110.6 C1032.7,4110.6 1035.7,4108.8 1038.8,4109.1 C1042.0,4109.3 1045.1,4111.2 1048.3,4112.2 C1051.4,4113.3 1054.3,4115.0 1057.7,4115.4 C1061.6,4115.7 1066.1,4114.0 1070.3,4113.8 C1074.5,4113.5 1079.1,4114.7 1083.0,4113.8 C1086.4,4113.0 1089.3,4110.6 1092.4,4109.1 C1095.6,4107.5 1099.2,4106.3 1101.9,4104.3 C1104.3,4102.5 1105.6,4099.6 1108.2,4098.0 C1110.8,4096.4 1115.0,4096.7 1117.6,4094.9 C1120.3,4093.0 1121.8,4090.0 1123.9,4087.0 C1126.5,4083.3 1129.4,4078.6 1131.8,4074.4 C1134.1,4070.2 1136.3,4066.3 1138.1,4061.8 C1140.1,4056.9 1141.3,4051.5 1142.8,4046.0 C1144.5,4040.0 1146.3,4033.4 1147.6,4027.1 C1148.9,4020.8 1149.7,4014.7 1150.7,4008.2 C1151.8,4001.1 1152.8,3993.5 1153.9,3986.1 C1154.9,3978.7 1155.9,3971.1 1157.0,3964.0 C1158.1,3957.5 1159.1,3951.1 1160.2,3945.1 C1161.2,3939.6 1162.2,3934.3 1163.3,3929.4 C1164.3,3924.9 1165.1,3920.6 1166.5,3916.7 C1167.8,3913.3 1169.2,3909.0 1171.2,3907.3 C1172.6,3906.1 1174.5,3905.4 1176.0,3905.7 C1177.7,3906.1 1179.4,3908.2 1180.7,3910.4 C1182.7,3914.0 1183.2,3920.5 1184.5,3926.2 C1185.9,3932.9 1187.3,3941.2 1188.6,3948.3 C1189.7,3954.8 1190.7,3960.9 1191.7,3967.2 C1192.8,3973.5 1193.6,3979.8 1194.9,3986.1 C1196.2,3992.4 1198.1,3998.5 1199.6,4005.0 C1201.2,4012.1 1202.7,4020.0 1204.3,4027.1 C1205.8,4033.6 1207.4,4040.0 1209.1,4046.0 C1210.6,4051.5 1211.6,4056.9 1213.8,4061.8 C1215.9,4066.4 1219.0,4070.2 1221.7,4074.4 C1224.3,4078.6 1226.9,4082.8 1229.5,4087.0 C1232.2,4091.2 1234.8,4095.4 1237.4,4099.6 C1240.1,4103.8 1242.7,4108.0 1245.3,4112.2 C1247.9,4116.4 1250.2,4121.8 1253.2,4124.8 C1255.6,4127.2 1258.4,4128.5 1261.1,4129.5 C1263.6,4130.5 1266.6,4129.9 1269.0,4131.1 C1271.4,4132.4 1273.0,4137.1 1275.3,4137.4 C1277.3,4137.8 1279.5,4133.9 1281.6,4134.3 C1284.2,4134.7 1286.5,4141.0 1289.4,4142.2 C1291.9,4143.2 1294.7,4142.8 1297.3,4142.2 C1300.4,4141.4 1303.8,4137.1 1306.8,4137.4 C1309.7,4137.7 1312.9,4142.5 1315.0,4143.7 C1316.1,4144.4 1316.6,4144.9 1317.9,4144.9 C1320.1,4145.0 1324.2,4142.5 1327.3,4141.8 C1330.5,4141.0 1333.9,4139.6 1336.8,4140.2 C1339.7,4140.7 1342.4,4143.5 1344.7,4144.9 C1346.5,4146.0 1347.7,4148.2 1349.4,4148.1 C1351.8,4147.8 1354.4,4141.0 1357.3,4140.2 C1359.7,4139.4 1362.7,4142.1 1365.2,4141.8 C1367.4,4141.4 1369.2,4138.7 1371.5,4138.6 C1373.9,4138.5 1376.8,4142.0 1379.4,4141.8 C1382.0,4141.5 1384.4,4137.8 1387.2,4137.0 C1390.1,4136.2 1393.8,4137.8 1396.7,4137.0 C1399.6,4136.2 1401.7,4133.4 1404.6,4132.3 C1407.5,4131.1 1411.0,4130.6 1414.0,4130.1 C1416.8,4129.6 1419.4,4130.2 1421.9,4129.1 C1424.7,4128.0 1426.9,4124.7 1429.8,4122.8 C1432.7,4121.0 1436.8,4120.1 1439.3,4118.1 C1441.4,4116.3 1441.9,4113.4 1444.0,4111.8 C1446.1,4110.2 1449.2,4110.1 1451.9,4108.7 C1455.0,4107.0 1458.2,4104.7 1461.3,4102.3 C1464.5,4099.9 1468.4,4097.8 1470.8,4094.5 C1473.2,4091.0 1473.2,4085.4 1475.5,4081.9 C1477.6,4078.7 1481.0,4076.8 1483.4,4074.0 C1485.8,4071.1 1487.6,4067.7 1489.7,4064.5 C1491.8,4061.4 1494.4,4058.6 1496.0,4055.1 C1497.7,4051.3 1497.4,4046.5 1499.2,4042.4 C1501.0,4038.1 1504.9,4034.1 1507.0,4029.8 C1509.1,4025.7 1510.5,4021.9 1511.8,4017.2 C1513.3,4011.6 1512.7,4002.7 1514.9,3998.3 C1516.5,3995.3 1519.2,3994.4 1521.2,3992.0 C1523.5,3989.3 1525.7,3986.0 1527.5,3982.5 C1529.5,3978.7 1530.6,3974.0 1532.3,3969.9 C1533.8,3966.1 1534.7,3960.1 1537.0,3958.9 C1538.7,3958.1 1541.4,3959.6 1543.3,3960.5 C1545.1,3961.3 1546.3,3963.7 1548.0,3963.6 C1550.0,3963.6 1552.0,3959.4 1554.3,3958.9 C1556.7,3958.4 1560.0,3959.6 1562.2,3960.5 C1564.1,3961.3 1565.4,3963.9 1566.9,3963.6 C1569.0,3963.3 1571.0,3958.5 1573.2,3955.8 C1575.7,3952.7 1578.9,3949.4 1581.1,3946.3 C1583.0,3943.6 1584.4,3941.3 1585.9,3938.4 C1587.5,3935.1 1589.0,3931.1 1590.6,3927.4 C1592.2,3923.7 1594.1,3920.6 1595.3,3916.3 C1596.9,3911.0 1597.4,3903.4 1598.5,3897.4 C1599.5,3891.9 1600.6,3886.9 1601.6,3881.7 C1602.7,3876.4 1603.8,3871.4 1604.8,3865.9 C1605.9,3859.9 1606.9,3853.5 1607.9,3847.0 C1609.0,3839.9 1610.0,3832.3 1611.1,3824.9 C1612.1,3817.6 1613.2,3810.5 1614.2,3802.8 C1615.3,3794.7 1616.3,3786.0 1617.4,3777.6 C1618.4,3769.2 1619.5,3760.8 1620.5,3752.4 C1621.6,3744.0 1622.6,3735.3 1623.7,3727.2 C1624.7,3719.6 1625.6,3712.9 1626.8,3705.1 C1628.2,3696.2 1630.1,3685.2 1631.6,3676.7 C1632.7,3669.8 1633.2,3662.7 1634.7,3657.8 C1635.8,3654.5 1637.3,3649.8 1638.5,3649.9 C1640.4,3650.1 1642.6,3661.8 1644.2,3669.8 C1646.4,3681.6 1647.2,3700.3 1648.6,3714.5 C1649.9,3727.5 1651.1,3739.4 1652.4,3751.8 C1653.6,3764.2 1655.0,3776.6 1656.1,3789.0 C1657.2,3801.4 1658.1,3813.9 1659.1,3826.3 C1660.0,3838.7 1660.8,3851.1 1661.7,3863.5 C1662.5,3876.0 1663.3,3888.4 1664.3,3900.8 C1665.2,3913.2 1666.3,3925.6 1667.3,3938.1 C1668.3,3950.5 1669.0,3962.9 1670.2,3975.3 C1671.5,3987.8 1673.3,4000.9 1674.7,4012.6 C1676.0,4023.1 1676.8,4032.8 1678.4,4042.4 C1680.0,4051.4 1682.1,4060.1 1684.0,4068.5 C1685.8,4076.2 1687.3,4083.8 1689.6,4090.8 C1691.7,4097.4 1694.8,4103.6 1697.1,4109.4 C1699.1,4114.7 1700.1,4120.4 1702.7,4124.4 C1704.7,4127.5 1707.8,4128.7 1710.1,4131.8 C1712.9,4135.7 1714.6,4142.2 1717.6,4146.7 C1720.3,4150.9 1723.8,4154.0 1726.9,4157.9 C1730.1,4162.0 1732.8,4168.6 1736.2,4170.9 C1738.5,4172.5 1741.2,4171.4 1743.6,4172.8 C1746.8,4174.6 1749.7,4179.5 1753.0,4182.1 C1755.9,4184.4 1759.2,4186.4 1762.3,4187.7 C1764.8,4188.7 1767.2,4188.5 1769.7,4189.6 C1772.7,4190.8 1775.8,4193.9 1779.0,4195.1 C1782.0,4196.3 1785.4,4195.6 1788.3,4197.0 C1791.6,4198.5 1794.5,4204.2 1797.7,4204.5 C1800.7,4204.7 1803.9,4198.7 1807.0,4198.9 C1810.2,4199.1 1813.3,4204.0 1816.3,4206.3 C1818.9,4208.3 1820.8,4211.2 1823.7,4211.9 C1826.9,4212.7 1831.7,4209.3 1834.9,4210.0 C1837.8,4210.8 1839.5,4214.1 1842.4,4215.6 C1845.6,4217.3 1849.5,4218.2 1853.5,4219.4 C1858.1,4220.7 1863.5,4222.2 1868.5,4223.1 C1873.4,4224.0 1878.4,4224.3 1883.4,4224.9 C1888.3,4225.6 1893.3,4226.3 1898.3,4226.8 C1903.2,4227.3 1908.6,4227.2 1913.2,4227.9 C1917.2,4228.5 1920.6,4230.7 1924.3,4230.5 C1928.1,4230.4 1931.5,4227.6 1935.5,4226.8 C1940.1,4225.9 1945.7,4227.0 1950.4,4225.7 C1955.0,4224.4 1959.0,4220.1 1963.5,4219.4 C1967.7,4218.7 1972.2,4220.6 1976.5,4221.2 C1980.8,4221.8 1985.6,4223.6 1989.5,4223.1 C1993.0,4222.7 1995.7,4219.1 1998.9,4219.4 C2002.5,4219.6 2006.2,4225.1 2010.0,4225.7 C2013.7,4226.2 2017.5,4223.7 2021.2,4223.1 C2024.9,4222.5 2029.0,4222.1 2032.4,4222.0 C2035.1,4221.8 2039.8,4222.0 2039.8,4222.0" fill="none" stroke="#0000ff" stroke-width="5.0" stroke-linejoin="round" stroke-linecap="round" transform="translate(0,-0.5)"/><use href="#c9" transform="translate(0,1)"/>
<text x="384.5" y="3614.7" font-size="63.0" text-anchor="middle" font-weight="normal">t</text>
<text x="702.5" y="3340.0" font-size="63.0" text-anchor="middle" font-weight="normal">t</text>
<text x="811.0" y="3779.8" font-size="63.0" text-anchor="middle" font-weight="normal">t</text>
<text x="1170.5" y="3846.3" font-size="63.0" text-anchor="middle" font-weight="normal">t</text>
<text x="1545.0" y="3865.0" font-size="63.0" text-anchor="middle" font-weight="normal">t</text>
<text x="1638.0" y="3611.9" font-size="63.0" text-anchor="middle" font-weight="normal">t</text>
</svg>
</body></html>
